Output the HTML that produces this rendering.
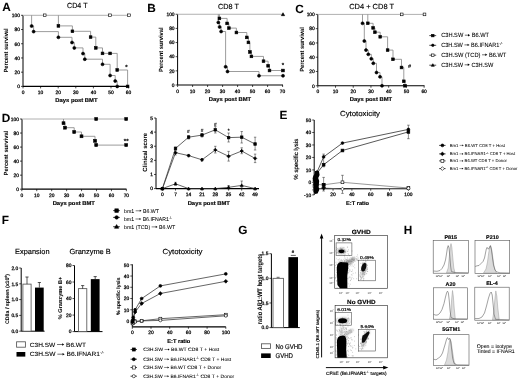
<!DOCTYPE html>
<html><head><meta charset="utf-8"><style>
html,body{margin:0;padding:0;background:#fff;}
svg{display:block;font-family:"Liberation Sans", sans-serif;text-rendering:geometricPrecision;}
</style></head><body>
<svg style="will-change:transform" width="520" height="381" viewBox="0 0 520 381">
<rect width="520" height="381" fill="#fff"/>
<text x="2.20" y="11.40" font-size="11.8" font-weight="bold" stroke="#000" stroke-width="0.05">A</text>
<text x="77.30" y="8.20" font-size="7.4" text-anchor="middle" textLength="20.40" lengthAdjust="spacingAndGlyphs" stroke="#000" stroke-width="0.15">CD4 T</text>
<line x1="23.00" y1="15.30" x2="23.00" y2="86.40" stroke="#000" stroke-width="1.0"/>
<line x1="21.00" y1="86.40" x2="23.00" y2="86.40" stroke="#000" stroke-width="0.7"/>
<text x="20.00" y="88.16" font-size="4.9" text-anchor="end" stroke="#000" stroke-width="0.25">0</text>
<line x1="21.00" y1="72.18" x2="23.00" y2="72.18" stroke="#000" stroke-width="0.7"/>
<text x="20.00" y="73.94" font-size="4.9" text-anchor="end" stroke="#000" stroke-width="0.25">20</text>
<line x1="21.00" y1="57.96" x2="23.00" y2="57.96" stroke="#000" stroke-width="0.7"/>
<text x="20.00" y="59.72" font-size="4.9" text-anchor="end" stroke="#000" stroke-width="0.25">40</text>
<line x1="21.00" y1="43.74" x2="23.00" y2="43.74" stroke="#000" stroke-width="0.7"/>
<text x="20.00" y="45.50" font-size="4.9" text-anchor="end" stroke="#000" stroke-width="0.25">60</text>
<line x1="21.00" y1="29.52" x2="23.00" y2="29.52" stroke="#000" stroke-width="0.7"/>
<text x="20.00" y="31.28" font-size="4.9" text-anchor="end" stroke="#000" stroke-width="0.25">80</text>
<line x1="21.00" y1="15.30" x2="23.00" y2="15.30" stroke="#000" stroke-width="0.7"/>
<text x="20.00" y="17.06" font-size="4.9" text-anchor="end" stroke="#000" stroke-width="0.25">100</text>
<line x1="23.00" y1="86.40" x2="128.80" y2="86.40" stroke="#000" stroke-width="1.2"/>
<line x1="23.00" y1="86.40" x2="23.00" y2="88.40" stroke="#000" stroke-width="0.7"/>
<text x="23.00" y="94.20" font-size="4.9" text-anchor="middle" stroke="#000" stroke-width="0.25">0</text>
<line x1="40.60" y1="86.40" x2="40.60" y2="88.40" stroke="#000" stroke-width="0.7"/>
<text x="40.60" y="94.20" font-size="4.9" text-anchor="middle" stroke="#000" stroke-width="0.25">10</text>
<line x1="58.20" y1="86.40" x2="58.20" y2="88.40" stroke="#000" stroke-width="0.7"/>
<text x="58.20" y="94.20" font-size="4.9" text-anchor="middle" stroke="#000" stroke-width="0.25">20</text>
<line x1="75.80" y1="86.40" x2="75.80" y2="88.40" stroke="#000" stroke-width="0.7"/>
<text x="75.80" y="94.20" font-size="4.9" text-anchor="middle" stroke="#000" stroke-width="0.25">30</text>
<line x1="93.40" y1="86.40" x2="93.40" y2="88.40" stroke="#000" stroke-width="0.7"/>
<text x="93.40" y="94.20" font-size="4.9" text-anchor="middle" stroke="#000" stroke-width="0.25">40</text>
<line x1="111.00" y1="86.40" x2="111.00" y2="88.40" stroke="#000" stroke-width="0.7"/>
<text x="111.00" y="94.20" font-size="4.9" text-anchor="middle" stroke="#000" stroke-width="0.25">50</text>
<line x1="128.60" y1="86.40" x2="128.60" y2="88.40" stroke="#000" stroke-width="0.7"/>
<text x="128.60" y="94.20" font-size="4.9" text-anchor="middle" stroke="#000" stroke-width="0.25">60</text>
<text x="76.40" y="101.80" font-size="5.6" text-anchor="middle" font-weight="bold" textLength="42.30" lengthAdjust="spacingAndGlyphs" stroke="#000" stroke-width="0.15">Days post BMT</text>
<text x="8.40" y="50.50" font-size="6.0" text-anchor="middle" font-weight="bold" textLength="44.20" lengthAdjust="spacingAndGlyphs" stroke="#000" stroke-width="0.02" transform="rotate(-90 8.40 50.50)">Percent survival</text>
<line x1="23.00" y1="15.30" x2="128.80" y2="15.30" stroke="#b0b0b0" stroke-width="1.0"/>
<rect x="43.35" y="13.95" width="2.70" height="2.70" fill="#fff" stroke="#000" stroke-width="0.6"/>
<rect x="108.65" y="13.95" width="2.70" height="2.70" fill="#fff" stroke="#000" stroke-width="0.6"/>
<rect x="127.65" y="13.95" width="2.70" height="2.70" fill="#fff" stroke="#000" stroke-width="0.6"/>
<path d="M58.40 15.30H58.40V25.90H72.40V31.30H90.60V37.10H95.80V47.90H102.50V53.40H117.20V70.00H127.60V86.40" stroke="#8a8a8a" stroke-width="0.85" fill="none"/>
<rect x="57.05" y="24.55" width="2.70" height="2.70" fill="#000" stroke="#000" stroke-width="0.6"/>
<rect x="71.05" y="29.95" width="2.70" height="2.70" fill="#000" stroke="#000" stroke-width="0.6"/>
<rect x="89.25" y="35.75" width="2.70" height="2.70" fill="#000" stroke="#000" stroke-width="0.6"/>
<rect x="94.45" y="46.55" width="2.70" height="2.70" fill="#000" stroke="#000" stroke-width="0.6"/>
<rect x="101.15" y="52.05" width="2.70" height="2.70" fill="#000" stroke="#000" stroke-width="0.6"/>
<rect x="115.85" y="68.65" width="2.70" height="2.70" fill="#000" stroke="#000" stroke-width="0.6"/>
<rect x="126.25" y="85.05" width="2.70" height="2.70" fill="#000" stroke="#000" stroke-width="0.6"/>
<rect x="108.75" y="52.05" width="2.70" height="2.70" fill="#000" stroke="#000" stroke-width="0.6"/>
<path d="M31.60 15.30H31.60V26.00H33.60V31.60H58.40V37.30H72.00V42.50H74.30V47.90H83.00V53.60H84.80V59.20H102.50V64.30H110.10V75.50H115.20V81.00H117.20V86.40" stroke="#8a8a8a" stroke-width="0.85" fill="none"/>
<circle cx="31.60" cy="26.00" r="1.50" fill="#000" stroke="#000" stroke-width="0.6"/>
<circle cx="33.60" cy="31.60" r="1.50" fill="#000" stroke="#000" stroke-width="0.6"/>
<circle cx="58.40" cy="37.30" r="1.50" fill="#000" stroke="#000" stroke-width="0.6"/>
<circle cx="72.00" cy="42.50" r="1.50" fill="#000" stroke="#000" stroke-width="0.6"/>
<circle cx="74.30" cy="47.90" r="1.50" fill="#000" stroke="#000" stroke-width="0.6"/>
<circle cx="83.00" cy="53.60" r="1.50" fill="#000" stroke="#000" stroke-width="0.6"/>
<circle cx="84.80" cy="59.20" r="1.50" fill="#000" stroke="#000" stroke-width="0.6"/>
<circle cx="102.50" cy="64.30" r="1.50" fill="#000" stroke="#000" stroke-width="0.6"/>
<circle cx="110.10" cy="75.50" r="1.50" fill="#000" stroke="#000" stroke-width="0.6"/>
<circle cx="115.20" cy="81.00" r="1.50" fill="#000" stroke="#000" stroke-width="0.6"/>
<circle cx="117.20" cy="86.40" r="1.50" fill="#000" stroke="#000" stroke-width="0.6"/>
<text x="126.30" y="68.90" font-size="6.0" text-anchor="middle" font-weight="bold" stroke="#000" stroke-width="0.15">*</text>
<text x="147.20" y="12.30" font-size="11.8" font-weight="bold" stroke="#000" stroke-width="0.05">B</text>
<text x="228.40" y="9.10" font-size="7.4" text-anchor="middle" textLength="20.90" lengthAdjust="spacingAndGlyphs" stroke="#000" stroke-width="0.15">CD8 T</text>
<line x1="177.60" y1="14.25" x2="177.60" y2="85.00" stroke="#000" stroke-width="1.0"/>
<line x1="175.60" y1="85.00" x2="177.60" y2="85.00" stroke="#000" stroke-width="0.7"/>
<text x="174.60" y="86.76" font-size="4.9" text-anchor="end" stroke="#000" stroke-width="0.25">0</text>
<line x1="175.60" y1="70.85" x2="177.60" y2="70.85" stroke="#000" stroke-width="0.7"/>
<text x="174.60" y="72.61" font-size="4.9" text-anchor="end" stroke="#000" stroke-width="0.25">20</text>
<line x1="175.60" y1="56.70" x2="177.60" y2="56.70" stroke="#000" stroke-width="0.7"/>
<text x="174.60" y="58.46" font-size="4.9" text-anchor="end" stroke="#000" stroke-width="0.25">40</text>
<line x1="175.60" y1="42.55" x2="177.60" y2="42.55" stroke="#000" stroke-width="0.7"/>
<text x="174.60" y="44.31" font-size="4.9" text-anchor="end" stroke="#000" stroke-width="0.25">60</text>
<line x1="175.60" y1="28.40" x2="177.60" y2="28.40" stroke="#000" stroke-width="0.7"/>
<text x="174.60" y="30.16" font-size="4.9" text-anchor="end" stroke="#000" stroke-width="0.25">80</text>
<line x1="175.60" y1="14.25" x2="177.60" y2="14.25" stroke="#000" stroke-width="0.7"/>
<text x="174.60" y="16.01" font-size="4.9" text-anchor="end" stroke="#000" stroke-width="0.25">100</text>
<line x1="177.60" y1="85.00" x2="283.00" y2="85.00" stroke="#000" stroke-width="1.2"/>
<line x1="177.60" y1="85.00" x2="177.60" y2="87.00" stroke="#000" stroke-width="0.7"/>
<text x="177.60" y="93.00" font-size="4.9" text-anchor="middle" stroke="#000" stroke-width="0.25">0</text>
<line x1="192.60" y1="85.00" x2="192.60" y2="87.00" stroke="#000" stroke-width="0.7"/>
<text x="192.60" y="93.00" font-size="4.9" text-anchor="middle" stroke="#000" stroke-width="0.25">10</text>
<line x1="207.60" y1="85.00" x2="207.60" y2="87.00" stroke="#000" stroke-width="0.7"/>
<text x="207.60" y="93.00" font-size="4.9" text-anchor="middle" stroke="#000" stroke-width="0.25">20</text>
<line x1="222.60" y1="85.00" x2="222.60" y2="87.00" stroke="#000" stroke-width="0.7"/>
<text x="222.60" y="93.00" font-size="4.9" text-anchor="middle" stroke="#000" stroke-width="0.25">30</text>
<line x1="237.60" y1="85.00" x2="237.60" y2="87.00" stroke="#000" stroke-width="0.7"/>
<text x="237.60" y="93.00" font-size="4.9" text-anchor="middle" stroke="#000" stroke-width="0.25">40</text>
<line x1="252.60" y1="85.00" x2="252.60" y2="87.00" stroke="#000" stroke-width="0.7"/>
<text x="252.60" y="93.00" font-size="4.9" text-anchor="middle" stroke="#000" stroke-width="0.25">50</text>
<line x1="267.60" y1="85.00" x2="267.60" y2="87.00" stroke="#000" stroke-width="0.7"/>
<text x="267.60" y="93.00" font-size="4.9" text-anchor="middle" stroke="#000" stroke-width="0.25">60</text>
<line x1="282.60" y1="85.00" x2="282.60" y2="87.00" stroke="#000" stroke-width="0.7"/>
<text x="282.60" y="93.00" font-size="4.9" text-anchor="middle" stroke="#000" stroke-width="0.25">70</text>
<text x="230.00" y="101.20" font-size="5.6" text-anchor="middle" font-weight="bold" textLength="42.30" lengthAdjust="spacingAndGlyphs" stroke="#000" stroke-width="0.15">Days post BMT</text>
<text x="162.60" y="49.70" font-size="6.0" text-anchor="middle" font-weight="bold" textLength="44.60" lengthAdjust="spacingAndGlyphs" stroke="#000" stroke-width="0.02" transform="rotate(-90 162.60 49.70)">Percent survival</text>
<line x1="177.60" y1="14.25" x2="283.00" y2="14.25" stroke="#b0b0b0" stroke-width="1.0"/>
<path d="M283.00 12.72L284.68 15.66L281.32 15.66Z" fill="#000" stroke="#000" stroke-width="0.6"/>
<path d="M218.30 14.25H218.30V22.40H219.60V26.90H221.10V31.50H225.60V66.80H227.50V71.50H259.00V75.75H283.00" stroke="#8a8a8a" stroke-width="0.85" fill="none"/>
<circle cx="218.30" cy="22.40" r="1.50" fill="#000" stroke="#000" stroke-width="0.6"/>
<circle cx="219.60" cy="26.90" r="1.50" fill="#000" stroke="#000" stroke-width="0.6"/>
<circle cx="221.10" cy="31.50" r="1.50" fill="#000" stroke="#000" stroke-width="0.6"/>
<circle cx="225.60" cy="66.80" r="1.50" fill="#000" stroke="#000" stroke-width="0.6"/>
<circle cx="227.50" cy="71.50" r="1.50" fill="#000" stroke="#000" stroke-width="0.6"/>
<circle cx="259.00" cy="75.75" r="1.50" fill="#000" stroke="#000" stroke-width="0.6"/>
<circle cx="283.00" cy="75.75" r="1.50" fill="#000" stroke="#000" stroke-width="0.6"/>
<path d="M219.40 14.25H219.40V18.40H227.10V23.40H228.90V28.10H236.40V32.50H246.80V37.40H248.40V42.40H249.90V52.00H251.40V56.40H263.50V61.20H268.10V65.80H269.50V70.50H283.00" stroke="#8a8a8a" stroke-width="0.85" fill="none"/>
<rect x="218.05" y="17.05" width="2.70" height="2.70" fill="#000" stroke="#000" stroke-width="0.6"/>
<rect x="225.75" y="22.05" width="2.70" height="2.70" fill="#000" stroke="#000" stroke-width="0.6"/>
<rect x="227.55" y="26.75" width="2.70" height="2.70" fill="#000" stroke="#000" stroke-width="0.6"/>
<rect x="235.05" y="31.15" width="2.70" height="2.70" fill="#000" stroke="#000" stroke-width="0.6"/>
<rect x="245.45" y="36.05" width="2.70" height="2.70" fill="#000" stroke="#000" stroke-width="0.6"/>
<rect x="247.05" y="41.05" width="2.70" height="2.70" fill="#000" stroke="#000" stroke-width="0.6"/>
<rect x="248.55" y="50.65" width="2.70" height="2.70" fill="#000" stroke="#000" stroke-width="0.6"/>
<rect x="250.05" y="55.05" width="2.70" height="2.70" fill="#000" stroke="#000" stroke-width="0.6"/>
<rect x="262.15" y="59.85" width="2.70" height="2.70" fill="#000" stroke="#000" stroke-width="0.6"/>
<rect x="266.75" y="64.45" width="2.70" height="2.70" fill="#000" stroke="#000" stroke-width="0.6"/>
<rect x="268.15" y="69.15" width="2.70" height="2.70" fill="#000" stroke="#000" stroke-width="0.6"/>
<rect x="281.65" y="69.15" width="2.70" height="2.70" fill="#000" stroke="#000" stroke-width="0.6"/>
<text x="283.00" y="67.30" font-size="6.0" text-anchor="middle" font-weight="bold" stroke="#000" stroke-width="0.15">*</text>
<text x="295.20" y="12.80" font-size="11.8" font-weight="bold" stroke="#000" stroke-width="0.05">C</text>
<text x="371.60" y="8.50" font-size="7.4" text-anchor="middle" textLength="44.90" lengthAdjust="spacingAndGlyphs" stroke="#000" stroke-width="0.15">CD4 + CD8 T</text>
<line x1="317.80" y1="14.40" x2="317.80" y2="85.75" stroke="#000" stroke-width="1.0"/>
<line x1="315.80" y1="85.75" x2="317.80" y2="85.75" stroke="#000" stroke-width="0.7"/>
<text x="314.80" y="87.51" font-size="4.9" text-anchor="end" stroke="#000" stroke-width="0.25">0</text>
<line x1="315.80" y1="71.48" x2="317.80" y2="71.48" stroke="#000" stroke-width="0.7"/>
<text x="314.80" y="73.24" font-size="4.9" text-anchor="end" stroke="#000" stroke-width="0.25">20</text>
<line x1="315.80" y1="57.21" x2="317.80" y2="57.21" stroke="#000" stroke-width="0.7"/>
<text x="314.80" y="58.97" font-size="4.9" text-anchor="end" stroke="#000" stroke-width="0.25">40</text>
<line x1="315.80" y1="42.94" x2="317.80" y2="42.94" stroke="#000" stroke-width="0.7"/>
<text x="314.80" y="44.70" font-size="4.9" text-anchor="end" stroke="#000" stroke-width="0.25">60</text>
<line x1="315.80" y1="28.67" x2="317.80" y2="28.67" stroke="#000" stroke-width="0.7"/>
<text x="314.80" y="30.43" font-size="4.9" text-anchor="end" stroke="#000" stroke-width="0.25">80</text>
<line x1="315.80" y1="14.40" x2="317.80" y2="14.40" stroke="#000" stroke-width="0.7"/>
<text x="314.80" y="16.16" font-size="4.9" text-anchor="end" stroke="#000" stroke-width="0.25">100</text>
<line x1="317.80" y1="85.75" x2="424.50" y2="85.75" stroke="#000" stroke-width="1.2"/>
<line x1="317.80" y1="85.75" x2="317.80" y2="87.75" stroke="#000" stroke-width="0.7"/>
<text x="317.80" y="93.40" font-size="4.9" text-anchor="middle" stroke="#000" stroke-width="0.25">0</text>
<line x1="335.52" y1="85.75" x2="335.52" y2="87.75" stroke="#000" stroke-width="0.7"/>
<text x="335.52" y="93.40" font-size="4.9" text-anchor="middle" stroke="#000" stroke-width="0.25">10</text>
<line x1="353.24" y1="85.75" x2="353.24" y2="87.75" stroke="#000" stroke-width="0.7"/>
<text x="353.24" y="93.40" font-size="4.9" text-anchor="middle" stroke="#000" stroke-width="0.25">20</text>
<line x1="370.96" y1="85.75" x2="370.96" y2="87.75" stroke="#000" stroke-width="0.7"/>
<text x="370.96" y="93.40" font-size="4.9" text-anchor="middle" stroke="#000" stroke-width="0.25">30</text>
<line x1="388.68" y1="85.75" x2="388.68" y2="87.75" stroke="#000" stroke-width="0.7"/>
<text x="388.68" y="93.40" font-size="4.9" text-anchor="middle" stroke="#000" stroke-width="0.25">40</text>
<line x1="406.40" y1="85.75" x2="406.40" y2="87.75" stroke="#000" stroke-width="0.7"/>
<text x="406.40" y="93.40" font-size="4.9" text-anchor="middle" stroke="#000" stroke-width="0.25">50</text>
<line x1="424.12" y1="85.75" x2="424.12" y2="87.75" stroke="#000" stroke-width="0.7"/>
<text x="424.12" y="93.40" font-size="4.9" text-anchor="middle" stroke="#000" stroke-width="0.25">60</text>
<text x="371.00" y="101.20" font-size="5.6" text-anchor="middle" font-weight="bold" textLength="42.30" lengthAdjust="spacingAndGlyphs" stroke="#000" stroke-width="0.15">Days post BMT</text>
<text x="304.00" y="49.50" font-size="6.0" text-anchor="middle" font-weight="bold" textLength="44.60" lengthAdjust="spacingAndGlyphs" stroke="#000" stroke-width="0.02" transform="rotate(-90 304.00 49.50)">Percent survival</text>
<line x1="317.80" y1="14.40" x2="424.50" y2="14.40" stroke="#b0b0b0" stroke-width="1.0"/>
<rect x="400.35" y="13.05" width="2.70" height="2.70" fill="#fff" stroke="#000" stroke-width="0.6"/>
<rect x="423.15" y="13.05" width="2.70" height="2.70" fill="#fff" stroke="#000" stroke-width="0.6"/>
<path d="M362.50 14.40H362.50V23.30H364.30V41.00H366.00V50.10H368.30V54.30H371.30V58.80H373.30V63.30H376.50V72.50H380.00V76.80H382.00V85.75" stroke="#8a8a8a" stroke-width="0.85" fill="none"/>
<circle cx="362.50" cy="23.30" r="1.50" fill="#000" stroke="#000" stroke-width="0.6"/>
<circle cx="364.30" cy="41.00" r="1.50" fill="#000" stroke="#000" stroke-width="0.6"/>
<circle cx="366.00" cy="50.10" r="1.50" fill="#000" stroke="#000" stroke-width="0.6"/>
<circle cx="368.30" cy="54.30" r="1.50" fill="#000" stroke="#000" stroke-width="0.6"/>
<circle cx="371.30" cy="58.80" r="1.50" fill="#000" stroke="#000" stroke-width="0.6"/>
<circle cx="373.30" cy="63.30" r="1.50" fill="#000" stroke="#000" stroke-width="0.6"/>
<circle cx="376.50" cy="72.50" r="1.50" fill="#000" stroke="#000" stroke-width="0.6"/>
<circle cx="380.00" cy="76.80" r="1.50" fill="#000" stroke="#000" stroke-width="0.6"/>
<circle cx="382.00" cy="85.75" r="1.50" fill="#000" stroke="#000" stroke-width="0.6"/>
<path d="M367.80 14.40H367.80V23.30H373.10V27.90H374.90V32.20H380.20V36.80H387.60V50.10H393.00V59.30H401.50V67.50H403.80V81.30H405.00V85.75" stroke="#8a8a8a" stroke-width="0.85" fill="none"/>
<rect x="366.45" y="21.95" width="2.70" height="2.70" fill="#000" stroke="#000" stroke-width="0.6"/>
<rect x="371.75" y="26.55" width="2.70" height="2.70" fill="#000" stroke="#000" stroke-width="0.6"/>
<rect x="373.55" y="30.85" width="2.70" height="2.70" fill="#000" stroke="#000" stroke-width="0.6"/>
<rect x="378.85" y="35.45" width="2.70" height="2.70" fill="#000" stroke="#000" stroke-width="0.6"/>
<rect x="386.25" y="48.75" width="2.70" height="2.70" fill="#000" stroke="#000" stroke-width="0.6"/>
<rect x="391.65" y="57.95" width="2.70" height="2.70" fill="#000" stroke="#000" stroke-width="0.6"/>
<rect x="400.15" y="66.15" width="2.70" height="2.70" fill="#000" stroke="#000" stroke-width="0.6"/>
<rect x="402.45" y="79.95" width="2.70" height="2.70" fill="#000" stroke="#000" stroke-width="0.6"/>
<rect x="403.65" y="84.40" width="2.70" height="2.70" fill="#000" stroke="#000" stroke-width="0.6"/>
<text x="409.60" y="68.20" font-size="5.6" text-anchor="middle" font-weight="bold" stroke="#000" stroke-width="0.05">#</text>
<line x1="429.30" y1="35.60" x2="436.20" y2="35.60" stroke="#000" stroke-width="0.7"/>
<rect x="431.55" y="34.35" width="2.50" height="2.50" fill="#000" stroke="#000" stroke-width="0.6"/>
<text x="441.20" y="37.40" font-size="6.1" textLength="23.65" lengthAdjust="spacingAndGlyphs" stroke="#000" stroke-width="0.08">C3H.SW&#160;</text>
<line x1="464.85" y1="35.20" x2="468.20" y2="35.20" stroke="#000" stroke-width="0.5685"/>
<path d="M470.08 35.20L468.00 33.98L468.00 36.42Z" fill="#000"/>
<text x="470.08" y="37.40" font-size="6.1" textLength="18.92" lengthAdjust="spacingAndGlyphs" stroke="#000" stroke-width="0.08">&#160;B6.WT</text>
<line x1="429.30" y1="45.30" x2="436.20" y2="45.30" stroke="#000" stroke-width="0.7"/>
<circle cx="432.80" cy="45.30" r="1.25" fill="#000" stroke="#000" stroke-width="0.6"/>
<text x="441.20" y="47.10" font-size="6.1" textLength="23.24" lengthAdjust="spacingAndGlyphs" stroke="#000" stroke-width="0.08">C3H.SW&#160;</text>
<line x1="464.44" y1="44.90" x2="467.69" y2="44.90" stroke="#000" stroke-width="0.5685"/>
<path d="M469.57 44.90L467.49 43.68L467.49 46.12Z" fill="#000"/>
<text x="469.57" y="47.10" font-size="6.1" textLength="29.75" lengthAdjust="spacingAndGlyphs" stroke="#000" stroke-width="0.08">&#160;B6.IFNAR1</text>
<text x="499.32" y="44.66" font-size="4.148" textLength="3.58" lengthAdjust="spacingAndGlyphs" stroke="#000" stroke-width="0.05">-/-</text>
<line x1="429.30" y1="55.20" x2="436.20" y2="55.20" stroke="#000" stroke-width="0.7"/>
<rect x="431.55" y="53.95" width="2.50" height="2.50" fill="#fff" stroke="#000" stroke-width="0.6"/>
<text x="441.20" y="57.00" font-size="6.1" textLength="40.85" lengthAdjust="spacingAndGlyphs" stroke="#000" stroke-width="0.08">C3H.SW&#160;(TCD)&#160;</text>
<line x1="482.05" y1="54.80" x2="485.42" y2="54.80" stroke="#000" stroke-width="0.5685"/>
<path d="M487.30 54.80L485.22 53.58L485.22 56.02Z" fill="#000"/>
<text x="487.30" y="57.00" font-size="6.1" textLength="19.00" lengthAdjust="spacingAndGlyphs" stroke="#000" stroke-width="0.08">&#160;B6.WT</text>
<line x1="429.30" y1="65.20" x2="436.20" y2="65.20" stroke="#000" stroke-width="0.7"/>
<path d="M432.80 63.70L434.30 66.33L431.30 66.33Z" fill="#000" stroke="#000" stroke-width="0.6"/>
<text x="441.20" y="67.00" font-size="6.1" textLength="23.46" lengthAdjust="spacingAndGlyphs" stroke="#000" stroke-width="0.08">C3H.SW&#160;</text>
<line x1="464.66" y1="64.80" x2="467.97" y2="64.80" stroke="#000" stroke-width="0.5685"/>
<path d="M469.84 64.80L467.77 63.58L467.77 66.02Z" fill="#000"/>
<text x="469.84" y="67.00" font-size="6.1" textLength="23.46" lengthAdjust="spacingAndGlyphs" stroke="#000" stroke-width="0.08">&#160;C3H.SW</text>
<text x="1.65" y="122.00" font-size="11.8" font-weight="bold" stroke="#000" stroke-width="0.05">D</text>
<line x1="22.00" y1="119.00" x2="22.00" y2="189.20" stroke="#000" stroke-width="1.0"/>
<line x1="20.00" y1="189.20" x2="22.00" y2="189.20" stroke="#000" stroke-width="0.7"/>
<text x="19.00" y="190.96" font-size="4.9" text-anchor="end" stroke="#000" stroke-width="0.25">0</text>
<line x1="20.00" y1="175.16" x2="22.00" y2="175.16" stroke="#000" stroke-width="0.7"/>
<text x="19.00" y="176.92" font-size="4.9" text-anchor="end" stroke="#000" stroke-width="0.25">20</text>
<line x1="20.00" y1="161.12" x2="22.00" y2="161.12" stroke="#000" stroke-width="0.7"/>
<text x="19.00" y="162.88" font-size="4.9" text-anchor="end" stroke="#000" stroke-width="0.25">40</text>
<line x1="20.00" y1="147.08" x2="22.00" y2="147.08" stroke="#000" stroke-width="0.7"/>
<text x="19.00" y="148.84" font-size="4.9" text-anchor="end" stroke="#000" stroke-width="0.25">60</text>
<line x1="20.00" y1="133.04" x2="22.00" y2="133.04" stroke="#000" stroke-width="0.7"/>
<text x="19.00" y="134.80" font-size="4.9" text-anchor="end" stroke="#000" stroke-width="0.25">80</text>
<line x1="20.00" y1="119.00" x2="22.00" y2="119.00" stroke="#000" stroke-width="0.7"/>
<text x="19.00" y="120.76" font-size="4.9" text-anchor="end" stroke="#000" stroke-width="0.25">100</text>
<line x1="22.00" y1="189.20" x2="126.50" y2="189.20" stroke="#000" stroke-width="1.2"/>
<line x1="21.80" y1="189.20" x2="21.80" y2="191.20" stroke="#000" stroke-width="0.7"/>
<text x="21.80" y="196.80" font-size="4.9" text-anchor="middle" stroke="#000" stroke-width="0.25">0</text>
<line x1="36.74" y1="189.20" x2="36.74" y2="191.20" stroke="#000" stroke-width="0.7"/>
<text x="36.74" y="196.80" font-size="4.9" text-anchor="middle" stroke="#000" stroke-width="0.25">10</text>
<line x1="51.68" y1="189.20" x2="51.68" y2="191.20" stroke="#000" stroke-width="0.7"/>
<text x="51.68" y="196.80" font-size="4.9" text-anchor="middle" stroke="#000" stroke-width="0.25">20</text>
<line x1="66.62" y1="189.20" x2="66.62" y2="191.20" stroke="#000" stroke-width="0.7"/>
<text x="66.62" y="196.80" font-size="4.9" text-anchor="middle" stroke="#000" stroke-width="0.25">30</text>
<line x1="81.56" y1="189.20" x2="81.56" y2="191.20" stroke="#000" stroke-width="0.7"/>
<text x="81.56" y="196.80" font-size="4.9" text-anchor="middle" stroke="#000" stroke-width="0.25">40</text>
<line x1="96.50" y1="189.20" x2="96.50" y2="191.20" stroke="#000" stroke-width="0.7"/>
<text x="96.50" y="196.80" font-size="4.9" text-anchor="middle" stroke="#000" stroke-width="0.25">50</text>
<line x1="111.44" y1="189.20" x2="111.44" y2="191.20" stroke="#000" stroke-width="0.7"/>
<text x="111.44" y="196.80" font-size="4.9" text-anchor="middle" stroke="#000" stroke-width="0.25">60</text>
<line x1="126.38" y1="189.20" x2="126.38" y2="191.20" stroke="#000" stroke-width="0.7"/>
<text x="126.38" y="196.80" font-size="4.9" text-anchor="middle" stroke="#000" stroke-width="0.25">70</text>
<text x="73.80" y="205.00" font-size="5.6" text-anchor="middle" font-weight="bold" textLength="42.30" lengthAdjust="spacingAndGlyphs" stroke="#000" stroke-width="0.15">Days post BMT</text>
<text x="7.70" y="153.10" font-size="6.0" text-anchor="middle" font-weight="bold" textLength="44.60" lengthAdjust="spacingAndGlyphs" stroke="#000" stroke-width="0.02" transform="rotate(-90 7.70 153.10)">Percent survival</text>
<line x1="22.00" y1="119.00" x2="126.30" y2="119.00" stroke="#b0b0b0" stroke-width="1.0"/>
<rect x="94.75" y="117.55" width="2.90" height="2.90" fill="#000" stroke="#000" stroke-width="0.6"/>
<rect x="124.75" y="117.55" width="2.90" height="2.90" fill="#000" stroke="#000" stroke-width="0.6"/>
<path d="M63.50 119.00H63.50V123.20H65.00V127.70H74.20V132.00H81.50V136.30H95.00V140.80H96.20V145.10H126.20" stroke="#8a8a8a" stroke-width="0.85" fill="none"/>
<rect x="62.05" y="121.75" width="2.90" height="2.90" fill="#000" stroke="#000" stroke-width="0.6"/>
<rect x="63.55" y="126.25" width="2.90" height="2.90" fill="#000" stroke="#000" stroke-width="0.6"/>
<rect x="72.75" y="130.55" width="2.90" height="2.90" fill="#000" stroke="#000" stroke-width="0.6"/>
<rect x="80.05" y="134.85" width="2.90" height="2.90" fill="#000" stroke="#000" stroke-width="0.6"/>
<rect x="93.55" y="139.35" width="2.90" height="2.90" fill="#000" stroke="#000" stroke-width="0.6"/>
<rect x="94.75" y="143.65" width="2.90" height="2.90" fill="#000" stroke="#000" stroke-width="0.6"/>
<rect x="124.75" y="143.65" width="2.90" height="2.90" fill="#000" stroke="#000" stroke-width="0.6"/>
<text x="126.20" y="143.00" font-size="6.0" text-anchor="middle" font-weight="bold" stroke="#000" stroke-width="0.15">**</text>
<line x1="113.20" y1="210.60" x2="119.80" y2="210.60" stroke="#000" stroke-width="0.8"/>
<rect x="114.85" y="208.85" width="3.50" height="3.50" fill="#000" stroke="#000" stroke-width="0.6"/>
<text x="124.00" y="212.70" font-size="5.3" textLength="11.65" lengthAdjust="spacingAndGlyphs" stroke="#000" stroke-width="0.05">bm1&#160;</text>
<line x1="135.65" y1="210.79" x2="139.92" y2="210.79" stroke="#000" stroke-width="0.5005000000000001"/>
<path d="M141.53 210.79L139.72 209.73L139.72 211.85Z" fill="#000"/>
<text x="141.53" y="212.70" font-size="5.3" textLength="17.47" lengthAdjust="spacingAndGlyphs" stroke="#000" stroke-width="0.05">&#160;B6.WT</text>
<line x1="113.20" y1="217.40" x2="119.80" y2="217.40" stroke="#000" stroke-width="0.8"/>
<circle cx="116.60" cy="217.40" r="1.75" fill="#000" stroke="#000" stroke-width="0.6"/>
<text x="124.00" y="220.90" font-size="5.3" textLength="11.47" lengthAdjust="spacingAndGlyphs" stroke="#000" stroke-width="0.05">bm1&#160;</text>
<line x1="135.47" y1="218.99" x2="139.65" y2="218.99" stroke="#000" stroke-width="0.5005000000000001"/>
<path d="M141.25 218.99L139.45 217.93L139.45 220.05Z" fill="#000"/>
<text x="141.25" y="220.90" font-size="5.3" textLength="27.53" lengthAdjust="spacingAndGlyphs" stroke="#000" stroke-width="0.05">&#160;B6.IFNAR1</text>
<text x="168.79" y="218.78" font-size="3.604" textLength="3.31" lengthAdjust="spacingAndGlyphs" stroke="#000" stroke-width="0.05">-/-</text>
<line x1="113.20" y1="226.70" x2="119.80" y2="226.70" stroke="#000" stroke-width="0.8"/>
<path d="M116.60 224.60L118.70 228.27L114.50 228.27Z" fill="#000" stroke="#000" stroke-width="0.6"/>
<text x="124.00" y="228.80" font-size="5.3" textLength="27.63" lengthAdjust="spacingAndGlyphs" stroke="#000" stroke-width="0.05">bm1&#160;(TCD)&#160;</text>
<line x1="151.63" y1="226.89" x2="155.96" y2="226.89" stroke="#000" stroke-width="0.5005000000000001"/>
<path d="M157.56 226.89L155.76 225.83L155.76 227.95Z" fill="#000"/>
<text x="157.56" y="228.80" font-size="5.3" textLength="17.64" lengthAdjust="spacingAndGlyphs" stroke="#000" stroke-width="0.05">&#160;B6.WT</text>
<line x1="156.00" y1="118.00" x2="156.00" y2="188.60" stroke="#000" stroke-width="1.0"/>
<line x1="154.00" y1="188.60" x2="156.00" y2="188.60" stroke="#000" stroke-width="0.7"/>
<text x="153.00" y="190.36" font-size="4.9" text-anchor="end" stroke="#000" stroke-width="0.25">0</text>
<line x1="154.00" y1="174.48" x2="156.00" y2="174.48" stroke="#000" stroke-width="0.7"/>
<text x="153.00" y="176.24" font-size="4.9" text-anchor="end" stroke="#000" stroke-width="0.25">1</text>
<line x1="154.00" y1="160.36" x2="156.00" y2="160.36" stroke="#000" stroke-width="0.7"/>
<text x="153.00" y="162.12" font-size="4.9" text-anchor="end" stroke="#000" stroke-width="0.25">2</text>
<line x1="154.00" y1="146.24" x2="156.00" y2="146.24" stroke="#000" stroke-width="0.7"/>
<text x="153.00" y="148.00" font-size="4.9" text-anchor="end" stroke="#000" stroke-width="0.25">3</text>
<line x1="154.00" y1="132.12" x2="156.00" y2="132.12" stroke="#000" stroke-width="0.7"/>
<text x="153.00" y="133.88" font-size="4.9" text-anchor="end" stroke="#000" stroke-width="0.25">4</text>
<line x1="154.00" y1="118.00" x2="156.00" y2="118.00" stroke="#000" stroke-width="0.7"/>
<text x="153.00" y="119.76" font-size="4.9" text-anchor="end" stroke="#000" stroke-width="0.25">5</text>
<line x1="156.00" y1="188.60" x2="259.00" y2="188.60" stroke="#000" stroke-width="1.2"/>
<line x1="162.40" y1="188.60" x2="162.40" y2="190.60" stroke="#000" stroke-width="0.7"/>
<text x="162.40" y="196.20" font-size="4.9" text-anchor="middle" stroke="#000" stroke-width="0.25">0</text>
<line x1="175.50" y1="188.60" x2="175.50" y2="190.60" stroke="#000" stroke-width="0.7"/>
<text x="175.50" y="196.20" font-size="4.9" text-anchor="middle" stroke="#000" stroke-width="0.25">7</text>
<line x1="188.60" y1="188.60" x2="188.60" y2="190.60" stroke="#000" stroke-width="0.7"/>
<text x="188.60" y="196.20" font-size="4.9" text-anchor="middle" stroke="#000" stroke-width="0.25">14</text>
<line x1="202.00" y1="188.60" x2="202.00" y2="190.60" stroke="#000" stroke-width="0.7"/>
<text x="202.00" y="196.20" font-size="4.9" text-anchor="middle" stroke="#000" stroke-width="0.25">21</text>
<line x1="215.30" y1="188.60" x2="215.30" y2="190.60" stroke="#000" stroke-width="0.7"/>
<text x="215.30" y="196.20" font-size="4.9" text-anchor="middle" stroke="#000" stroke-width="0.25">28</text>
<line x1="228.60" y1="188.60" x2="228.60" y2="190.60" stroke="#000" stroke-width="0.7"/>
<text x="228.60" y="196.20" font-size="4.9" text-anchor="middle" stroke="#000" stroke-width="0.25">35</text>
<line x1="241.70" y1="188.60" x2="241.70" y2="190.60" stroke="#000" stroke-width="0.7"/>
<text x="241.70" y="196.20" font-size="4.9" text-anchor="middle" stroke="#000" stroke-width="0.25">42</text>
<line x1="255.10" y1="188.60" x2="255.10" y2="190.60" stroke="#000" stroke-width="0.7"/>
<text x="255.10" y="196.20" font-size="4.9" text-anchor="middle" stroke="#000" stroke-width="0.25">49</text>
<text x="208.80" y="204.60" font-size="5.6" text-anchor="middle" font-weight="bold" textLength="42.30" lengthAdjust="spacingAndGlyphs" stroke="#000" stroke-width="0.15">Days post BMT</text>
<text x="146.90" y="152.30" font-size="6.0" text-anchor="middle" font-weight="bold" textLength="38.80" lengthAdjust="spacingAndGlyphs" stroke="#000" stroke-width="0.03" transform="rotate(-90 146.90 152.30)">Clinical score</text>
<path d="M162.40 188.60 L175.50 148.40 L188.60 137.20 L202.00 135.10 L215.30 129.80 L228.60 137.60 L241.70 137.20 L255.10 144.00" stroke="#333" stroke-width="0.75" fill="none"/>
<line x1="175.50" y1="147.00" x2="175.50" y2="150.00" stroke="#333" stroke-width="0.55"/>
<line x1="174.30" y1="147.00" x2="176.70" y2="147.00" stroke="#333" stroke-width="0.55"/>
<line x1="174.30" y1="150.00" x2="176.70" y2="150.00" stroke="#333" stroke-width="0.55"/>
<line x1="188.60" y1="135.50" x2="188.60" y2="139.00" stroke="#333" stroke-width="0.55"/>
<line x1="187.40" y1="135.50" x2="189.80" y2="135.50" stroke="#333" stroke-width="0.55"/>
<line x1="187.40" y1="139.00" x2="189.80" y2="139.00" stroke="#333" stroke-width="0.55"/>
<line x1="202.00" y1="133.50" x2="202.00" y2="137.00" stroke="#333" stroke-width="0.55"/>
<line x1="200.80" y1="133.50" x2="203.20" y2="133.50" stroke="#333" stroke-width="0.55"/>
<line x1="200.80" y1="137.00" x2="203.20" y2="137.00" stroke="#333" stroke-width="0.55"/>
<line x1="215.30" y1="126.60" x2="215.30" y2="133.00" stroke="#333" stroke-width="0.55"/>
<line x1="214.10" y1="126.60" x2="216.50" y2="126.60" stroke="#333" stroke-width="0.55"/>
<line x1="214.10" y1="133.00" x2="216.50" y2="133.00" stroke="#333" stroke-width="0.55"/>
<line x1="228.60" y1="133.00" x2="228.60" y2="142.00" stroke="#333" stroke-width="0.55"/>
<line x1="227.40" y1="133.00" x2="229.80" y2="133.00" stroke="#333" stroke-width="0.55"/>
<line x1="227.40" y1="142.00" x2="229.80" y2="142.00" stroke="#333" stroke-width="0.55"/>
<line x1="241.70" y1="131.50" x2="241.70" y2="143.00" stroke="#333" stroke-width="0.55"/>
<line x1="240.50" y1="131.50" x2="242.90" y2="131.50" stroke="#333" stroke-width="0.55"/>
<line x1="240.50" y1="143.00" x2="242.90" y2="143.00" stroke="#333" stroke-width="0.55"/>
<line x1="255.10" y1="137.20" x2="255.10" y2="150.00" stroke="#333" stroke-width="0.55"/>
<line x1="253.90" y1="137.20" x2="256.30" y2="137.20" stroke="#333" stroke-width="0.55"/>
<line x1="253.90" y1="150.00" x2="256.30" y2="150.00" stroke="#333" stroke-width="0.55"/>
<rect x="161.10" y="187.30" width="2.60" height="2.60" fill="#000" stroke="#000" stroke-width="0.6"/>
<rect x="174.20" y="147.10" width="2.60" height="2.60" fill="#000" stroke="#000" stroke-width="0.6"/>
<rect x="187.30" y="135.90" width="2.60" height="2.60" fill="#000" stroke="#000" stroke-width="0.6"/>
<rect x="200.70" y="133.80" width="2.60" height="2.60" fill="#000" stroke="#000" stroke-width="0.6"/>
<rect x="214.00" y="128.50" width="2.60" height="2.60" fill="#000" stroke="#000" stroke-width="0.6"/>
<rect x="227.30" y="136.30" width="2.60" height="2.60" fill="#000" stroke="#000" stroke-width="0.6"/>
<rect x="240.40" y="135.90" width="2.60" height="2.60" fill="#000" stroke="#000" stroke-width="0.6"/>
<rect x="253.80" y="142.70" width="2.60" height="2.60" fill="#000" stroke="#000" stroke-width="0.6"/>
<path d="M162.40 188.60 L175.50 152.70 L188.60 155.60 L202.00 159.80 L215.30 149.90 L228.60 156.30 L241.70 151.00 L255.10 158.40" stroke="#333" stroke-width="0.75" fill="none"/>
<line x1="175.50" y1="150.50" x2="175.50" y2="155.00" stroke="#333" stroke-width="0.55"/>
<line x1="174.30" y1="150.50" x2="176.70" y2="150.50" stroke="#333" stroke-width="0.55"/>
<line x1="174.30" y1="155.00" x2="176.70" y2="155.00" stroke="#333" stroke-width="0.55"/>
<line x1="188.60" y1="154.50" x2="188.60" y2="156.70" stroke="#333" stroke-width="0.55"/>
<line x1="187.40" y1="154.50" x2="189.80" y2="154.50" stroke="#333" stroke-width="0.55"/>
<line x1="187.40" y1="156.70" x2="189.80" y2="156.70" stroke="#333" stroke-width="0.55"/>
<line x1="202.00" y1="158.50" x2="202.00" y2="161.00" stroke="#333" stroke-width="0.55"/>
<line x1="200.80" y1="158.50" x2="203.20" y2="158.50" stroke="#333" stroke-width="0.55"/>
<line x1="200.80" y1="161.00" x2="203.20" y2="161.00" stroke="#333" stroke-width="0.55"/>
<line x1="215.30" y1="146.30" x2="215.30" y2="153.00" stroke="#333" stroke-width="0.55"/>
<line x1="214.10" y1="146.30" x2="216.50" y2="146.30" stroke="#333" stroke-width="0.55"/>
<line x1="214.10" y1="153.00" x2="216.50" y2="153.00" stroke="#333" stroke-width="0.55"/>
<line x1="228.60" y1="151.40" x2="228.60" y2="161.10" stroke="#333" stroke-width="0.55"/>
<line x1="227.40" y1="151.40" x2="229.80" y2="151.40" stroke="#333" stroke-width="0.55"/>
<line x1="227.40" y1="161.10" x2="229.80" y2="161.10" stroke="#333" stroke-width="0.55"/>
<line x1="241.70" y1="147.80" x2="241.70" y2="153.70" stroke="#333" stroke-width="0.55"/>
<line x1="240.50" y1="147.80" x2="242.90" y2="147.80" stroke="#333" stroke-width="0.55"/>
<line x1="240.50" y1="153.70" x2="242.90" y2="153.70" stroke="#333" stroke-width="0.55"/>
<line x1="255.10" y1="154.10" x2="255.10" y2="162.60" stroke="#333" stroke-width="0.55"/>
<line x1="253.90" y1="154.10" x2="256.30" y2="154.10" stroke="#333" stroke-width="0.55"/>
<line x1="253.90" y1="162.60" x2="256.30" y2="162.60" stroke="#333" stroke-width="0.55"/>
<path d="M162.40 186.91L164.09 188.60L162.40 190.29L160.71 188.60Z" fill="#000" stroke="#000" stroke-width="0.6"/>
<path d="M175.50 151.01L177.19 152.70L175.50 154.39L173.81 152.70Z" fill="#000" stroke="#000" stroke-width="0.6"/>
<path d="M188.60 153.91L190.29 155.60L188.60 157.29L186.91 155.60Z" fill="#000" stroke="#000" stroke-width="0.6"/>
<path d="M202.00 158.11L203.69 159.80L202.00 161.49L200.31 159.80Z" fill="#000" stroke="#000" stroke-width="0.6"/>
<path d="M215.30 148.21L216.99 149.90L215.30 151.59L213.61 149.90Z" fill="#000" stroke="#000" stroke-width="0.6"/>
<path d="M228.60 154.61L230.29 156.30L228.60 157.99L226.91 156.30Z" fill="#000" stroke="#000" stroke-width="0.6"/>
<path d="M241.70 149.31L243.39 151.00L241.70 152.69L240.01 151.00Z" fill="#000" stroke="#000" stroke-width="0.6"/>
<path d="M255.10 156.71L256.79 158.40L255.10 160.09L253.41 158.40Z" fill="#000" stroke="#000" stroke-width="0.6"/>
<path d="M162.40 188.60 L175.50 183.80 L188.60 188.60 L202.00 188.60 L215.30 188.60 L228.60 187.30 L241.70 185.40 L255.10 188.60" stroke="#333" stroke-width="0.75" fill="none"/>
<line x1="175.50" y1="182.30" x2="175.50" y2="185.20" stroke="#333" stroke-width="0.55"/>
<line x1="174.30" y1="182.30" x2="176.70" y2="182.30" stroke="#333" stroke-width="0.55"/>
<line x1="174.30" y1="185.20" x2="176.70" y2="185.20" stroke="#333" stroke-width="0.55"/>
<line x1="228.60" y1="185.50" x2="228.60" y2="189.00" stroke="#333" stroke-width="0.55"/>
<line x1="227.40" y1="185.50" x2="229.80" y2="185.50" stroke="#333" stroke-width="0.55"/>
<line x1="227.40" y1="189.00" x2="229.80" y2="189.00" stroke="#333" stroke-width="0.55"/>
<line x1="241.70" y1="181.00" x2="241.70" y2="188.00" stroke="#333" stroke-width="0.55"/>
<line x1="240.50" y1="181.00" x2="242.90" y2="181.00" stroke="#333" stroke-width="0.55"/>
<line x1="240.50" y1="188.00" x2="242.90" y2="188.00" stroke="#333" stroke-width="0.55"/>
<path d="M162.40 187.04L163.96 189.77L160.84 189.77Z" fill="#000" stroke="#000" stroke-width="0.6"/>
<path d="M175.50 182.24L177.06 184.97L173.94 184.97Z" fill="#000" stroke="#000" stroke-width="0.6"/>
<path d="M188.60 187.04L190.16 189.77L187.04 189.77Z" fill="#000" stroke="#000" stroke-width="0.6"/>
<path d="M202.00 187.04L203.56 189.77L200.44 189.77Z" fill="#000" stroke="#000" stroke-width="0.6"/>
<path d="M215.30 187.04L216.86 189.77L213.74 189.77Z" fill="#000" stroke="#000" stroke-width="0.6"/>
<path d="M228.60 185.74L230.16 188.47L227.04 188.47Z" fill="#000" stroke="#000" stroke-width="0.6"/>
<path d="M241.70 183.84L243.26 186.57L240.14 186.57Z" fill="#000" stroke="#000" stroke-width="0.6"/>
<path d="M255.10 187.04L256.66 189.77L253.54 189.77Z" fill="#000" stroke="#000" stroke-width="0.6"/>
<text x="188.40" y="132.80" font-size="4.8" text-anchor="middle" font-weight="bold" stroke="#000" stroke-width="0.05">#</text>
<text x="202.00" y="132.10" font-size="4.8" text-anchor="middle" font-weight="bold" stroke="#000" stroke-width="0.05">#</text>
<text x="215.30" y="125.80" font-size="4.8" text-anchor="middle" font-weight="bold" stroke="#000" stroke-width="0.05">#</text>
<text x="228.60" y="131.80" font-size="4.6" text-anchor="middle" font-weight="bold" stroke="#000" stroke-width="0.15">*</text>
<text x="279.50" y="119.30" font-size="11.8" font-weight="bold" stroke="#000" stroke-width="0.05">E</text>
<text x="360.00" y="116.40" font-size="7.4" text-anchor="middle" textLength="40.00" lengthAdjust="spacingAndGlyphs" stroke="#000" stroke-width="0.15">Cytotoxicity</text>
<line x1="314.20" y1="120.00" x2="314.20" y2="195.00" stroke="#000" stroke-width="1.0"/>
<line x1="312.20" y1="194.88" x2="314.20" y2="194.88" stroke="#000" stroke-width="0.7"/>
<text x="311.20" y="196.64" font-size="4.9" text-anchor="end" stroke="#000" stroke-width="0.25">-10</text>
<line x1="312.20" y1="182.40" x2="314.20" y2="182.40" stroke="#000" stroke-width="0.7"/>
<text x="311.20" y="184.16" font-size="4.9" text-anchor="end" stroke="#000" stroke-width="0.25">0</text>
<line x1="312.20" y1="169.92" x2="314.20" y2="169.92" stroke="#000" stroke-width="0.7"/>
<text x="311.20" y="171.68" font-size="4.9" text-anchor="end" stroke="#000" stroke-width="0.25">10</text>
<line x1="312.20" y1="157.44" x2="314.20" y2="157.44" stroke="#000" stroke-width="0.7"/>
<text x="311.20" y="159.20" font-size="4.9" text-anchor="end" stroke="#000" stroke-width="0.25">20</text>
<line x1="312.20" y1="144.96" x2="314.20" y2="144.96" stroke="#000" stroke-width="0.7"/>
<text x="311.20" y="146.72" font-size="4.9" text-anchor="end" stroke="#000" stroke-width="0.25">30</text>
<line x1="312.20" y1="132.48" x2="314.20" y2="132.48" stroke="#000" stroke-width="0.7"/>
<text x="311.20" y="134.24" font-size="4.9" text-anchor="end" stroke="#000" stroke-width="0.25">40</text>
<line x1="312.20" y1="120.00" x2="314.20" y2="120.00" stroke="#000" stroke-width="0.7"/>
<text x="311.20" y="121.76" font-size="4.9" text-anchor="end" stroke="#000" stroke-width="0.25">50</text>
<line x1="314.20" y1="188.70" x2="408.60" y2="188.70" stroke="#000" stroke-width="1.2"/>
<line x1="314.20" y1="188.70" x2="314.20" y2="190.70" stroke="#000" stroke-width="0.7"/>
<line x1="333.04" y1="188.70" x2="333.04" y2="190.70" stroke="#000" stroke-width="0.7"/>
<text x="333.04" y="196.30" font-size="4.9" text-anchor="middle" stroke="#000" stroke-width="0.25">20</text>
<line x1="351.88" y1="188.70" x2="351.88" y2="190.70" stroke="#000" stroke-width="0.7"/>
<text x="351.88" y="196.30" font-size="4.9" text-anchor="middle" stroke="#000" stroke-width="0.25">40</text>
<line x1="370.72" y1="188.70" x2="370.72" y2="190.70" stroke="#000" stroke-width="0.7"/>
<text x="370.72" y="196.30" font-size="4.9" text-anchor="middle" stroke="#000" stroke-width="0.25">60</text>
<line x1="389.56" y1="188.70" x2="389.56" y2="190.70" stroke="#000" stroke-width="0.7"/>
<text x="389.56" y="196.30" font-size="4.9" text-anchor="middle" stroke="#000" stroke-width="0.25">80</text>
<line x1="408.40" y1="188.70" x2="408.40" y2="190.70" stroke="#000" stroke-width="0.7"/>
<text x="408.40" y="196.30" font-size="4.9" text-anchor="middle" stroke="#000" stroke-width="0.25">100</text>
<text x="357.50" y="205.20" font-size="5.6" text-anchor="middle" font-weight="bold" textLength="23.00" lengthAdjust="spacingAndGlyphs" stroke="#000" stroke-width="0.15">E:T ratio</text>
<text x="298.00" y="159.20" font-size="6.0" text-anchor="middle" textLength="41.00" lengthAdjust="spacingAndGlyphs" stroke="#000" stroke-width="0.15" transform="rotate(-90 298.00 159.20)">% specific lysis</text>
<path d="M314.48 178.00 L315.14 176.00 L317.03 172.10 L323.62 156.90 L342.46 143.10 L408.40 129.40" stroke="#222" stroke-width="0.75" fill="none"/>
<path d="M314.48 180.00 L315.14 178.00 L317.03 173.20 L323.62 164.70 L342.46 150.50 L408.40 131.90" stroke="#222" stroke-width="0.75" fill="none"/>
<path d="M314.48 186.00 L315.14 185.00 L317.03 184.50 L323.62 184.80 L342.46 182.30 L408.40 188.00" stroke="#777" stroke-width="0.75" fill="none"/>
<path d="M314.48 190.00 L315.14 189.50 L317.03 189.00 L323.62 188.00 L342.46 189.00 L408.40 188.30" stroke="#777" stroke-width="0.75" fill="none"/>
<line x1="408.40" y1="125.20" x2="408.40" y2="138.70" stroke="#333" stroke-width="0.55"/>
<line x1="407.10" y1="125.20" x2="409.70" y2="125.20" stroke="#333" stroke-width="0.55"/>
<line x1="407.10" y1="138.70" x2="409.70" y2="138.70" stroke="#333" stroke-width="0.55"/>
<line x1="323.62" y1="154.10" x2="323.62" y2="166.80" stroke="#333" stroke-width="0.55"/>
<line x1="322.32" y1="154.10" x2="324.92" y2="154.10" stroke="#333" stroke-width="0.55"/>
<line x1="322.32" y1="166.80" x2="324.92" y2="166.80" stroke="#333" stroke-width="0.55"/>
<line x1="323.62" y1="177.40" x2="323.62" y2="191.00" stroke="#333" stroke-width="0.55"/>
<line x1="322.32" y1="177.40" x2="324.92" y2="177.40" stroke="#333" stroke-width="0.55"/>
<line x1="322.32" y1="191.00" x2="324.92" y2="191.00" stroke="#333" stroke-width="0.55"/>
<line x1="342.46" y1="175.30" x2="342.46" y2="182.30" stroke="#333" stroke-width="0.55"/>
<line x1="341.16" y1="175.30" x2="343.76" y2="175.30" stroke="#333" stroke-width="0.55"/>
<line x1="341.16" y1="182.30" x2="343.76" y2="182.30" stroke="#333" stroke-width="0.55"/>
<line x1="342.46" y1="189.00" x2="342.46" y2="193.40" stroke="#333" stroke-width="0.55"/>
<line x1="341.16" y1="189.00" x2="343.76" y2="189.00" stroke="#333" stroke-width="0.55"/>
<line x1="341.16" y1="193.40" x2="343.76" y2="193.40" stroke="#333" stroke-width="0.55"/>
<rect x="313.08" y="184.60" width="2.80" height="2.80" fill="#fff" stroke="#000" stroke-width="0.6"/>
<rect x="313.74" y="183.60" width="2.80" height="2.80" fill="#fff" stroke="#000" stroke-width="0.6"/>
<rect x="315.63" y="183.10" width="2.80" height="2.80" fill="#fff" stroke="#000" stroke-width="0.6"/>
<rect x="322.22" y="183.40" width="2.80" height="2.80" fill="#fff" stroke="#000" stroke-width="0.6"/>
<rect x="341.06" y="180.90" width="2.80" height="2.80" fill="#fff" stroke="#000" stroke-width="0.6"/>
<rect x="407.00" y="186.60" width="2.80" height="2.80" fill="#fff" stroke="#000" stroke-width="0.6"/>
<path d="M314.48 188.18L316.30 190.00L314.48 191.82L312.66 190.00Z" fill="#fff" stroke="#000" stroke-width="0.6"/>
<path d="M315.14 187.68L316.96 189.50L315.14 191.32L313.32 189.50Z" fill="#fff" stroke="#000" stroke-width="0.6"/>
<path d="M317.03 187.18L318.85 189.00L317.03 190.82L315.21 189.00Z" fill="#fff" stroke="#000" stroke-width="0.6"/>
<path d="M323.62 186.18L325.44 188.00L323.62 189.82L321.80 188.00Z" fill="#fff" stroke="#000" stroke-width="0.6"/>
<path d="M342.46 187.18L344.28 189.00L342.46 190.82L340.64 189.00Z" fill="#fff" stroke="#000" stroke-width="0.6"/>
<path d="M408.40 186.48L410.22 188.30L408.40 190.12L406.58 188.30Z" fill="#fff" stroke="#000" stroke-width="0.6"/>
<rect x="313.08" y="178.60" width="2.80" height="2.80" fill="#000" stroke="#000" stroke-width="0.6"/>
<rect x="313.74" y="176.60" width="2.80" height="2.80" fill="#000" stroke="#000" stroke-width="0.6"/>
<rect x="315.63" y="171.80" width="2.80" height="2.80" fill="#000" stroke="#000" stroke-width="0.6"/>
<rect x="322.22" y="163.30" width="2.80" height="2.80" fill="#000" stroke="#000" stroke-width="0.6"/>
<rect x="341.06" y="149.10" width="2.80" height="2.80" fill="#000" stroke="#000" stroke-width="0.6"/>
<rect x="407.00" y="130.50" width="2.80" height="2.80" fill="#000" stroke="#000" stroke-width="0.6"/>
<circle cx="314.48" cy="178.00" r="1.40" fill="#000" stroke="#000" stroke-width="0.6"/>
<circle cx="315.14" cy="176.00" r="1.40" fill="#000" stroke="#000" stroke-width="0.6"/>
<circle cx="317.03" cy="172.10" r="1.40" fill="#000" stroke="#000" stroke-width="0.6"/>
<circle cx="323.62" cy="156.90" r="1.40" fill="#000" stroke="#000" stroke-width="0.6"/>
<circle cx="342.46" cy="143.10" r="1.40" fill="#000" stroke="#000" stroke-width="0.6"/>
<circle cx="408.40" cy="129.40" r="1.40" fill="#000" stroke="#000" stroke-width="0.6"/>
<path d="M315 171 L319 171.5 L319.6 175 L318.2 178 L319.2 181 L318.6 186 L319.2 190 L317.6 193.6 L315 194 L313.6 192 L313.7 182 L314.4 176 Z" fill="#000" filter="url(#bl)"/>
<rect x="322.17" y="183.35" width="2.90" height="2.90" fill="#000" stroke="#000" stroke-width="0.6"/>
<path d="M323.62 186.12L325.50 188.00L323.62 189.88L321.74 188.00Z" fill="#000" stroke="#000" stroke-width="0.6"/>
<line x1="439.10" y1="145.40" x2="445.60" y2="145.40" stroke="#000" stroke-width="0.7"/>
<circle cx="442.40" cy="145.40" r="1.45" fill="#000" stroke="#000" stroke-width="0.6"/>
<text x="449.70" y="146.90" font-size="4.2" textLength="9.94" lengthAdjust="spacingAndGlyphs" stroke="#000" stroke-width="0.03">Bm1&#160;</text>
<line x1="459.64" y1="145.39" x2="462.46" y2="145.39" stroke="#000" stroke-width="0.40700000000000003"/>
<path d="M463.69 145.39L462.26 144.55L462.26 146.23Z" fill="#000"/>
<text x="463.69" y="146.90" font-size="4.2" textLength="41.31" lengthAdjust="spacingAndGlyphs" stroke="#000" stroke-width="0.03">&#160;B6.WT&#160;CD8&#160;T&#160;+&#160;Host</text>
<line x1="439.10" y1="153.90" x2="445.60" y2="153.90" stroke="#000" stroke-width="0.7"/>
<path d="M442.40 152.02L444.28 153.90L442.40 155.78L440.51 153.90Z" fill="#000" stroke="#000" stroke-width="0.6"/>
<text x="449.70" y="155.40" font-size="4.2" textLength="9.77" lengthAdjust="spacingAndGlyphs" stroke="#000" stroke-width="0.03">Bm1&#160;</text>
<line x1="459.47" y1="153.89" x2="462.22" y2="153.89" stroke="#000" stroke-width="0.40700000000000003"/>
<path d="M463.45 153.89L462.02 153.05L462.02 154.73Z" fill="#000"/>
<text x="463.45" y="155.40" font-size="4.2" textLength="22.33" lengthAdjust="spacingAndGlyphs" stroke="#000" stroke-width="0.03">&#160;B6.IFNAR1</text>
<text x="485.78" y="153.72" font-size="2.8560000000000003" textLength="2.69" lengthAdjust="spacingAndGlyphs" stroke="#000" stroke-width="0.05">-/-</text>
<text x="488.47" y="155.40" font-size="4.2" textLength="26.63" lengthAdjust="spacingAndGlyphs" stroke="#000" stroke-width="0.03">&#160;CD8&#160;T&#160;+&#160;Host</text>
<line x1="439.10" y1="160.90" x2="445.60" y2="160.90" stroke="#000" stroke-width="0.7"/>
<rect x="440.95" y="159.45" width="2.90" height="2.90" fill="#fff" stroke="#000" stroke-width="0.6"/>
<text x="449.70" y="162.40" font-size="4.2" textLength="9.78" lengthAdjust="spacingAndGlyphs" stroke="#000" stroke-width="0.03">Bm1&#160;</text>
<line x1="459.48" y1="160.89" x2="462.24" y2="160.89" stroke="#000" stroke-width="0.40700000000000003"/>
<path d="M463.46 160.89L462.04 160.05L462.04 161.73Z" fill="#000"/>
<text x="463.46" y="162.40" font-size="4.2" textLength="43.44" lengthAdjust="spacingAndGlyphs" stroke="#000" stroke-width="0.03">&#160;B6.WT&#160;CD8&#160;T&#160;+&#160;Donor</text>
<line x1="439.10" y1="168.60" x2="445.60" y2="168.60" stroke="#000" stroke-width="0.7"/>
<path d="M442.40 166.72L444.28 168.60L442.40 170.48L440.51 168.60Z" fill="#fff" stroke="#000" stroke-width="0.6"/>
<text x="449.70" y="170.10" font-size="4.2" textLength="9.71" lengthAdjust="spacingAndGlyphs" stroke="#000" stroke-width="0.03">Bm1&#160;</text>
<line x1="459.41" y1="168.59" x2="462.14" y2="168.59" stroke="#000" stroke-width="0.40700000000000003"/>
<path d="M463.37 168.59L461.94 167.75L461.94 169.43Z" fill="#000"/>
<text x="463.37" y="170.10" font-size="4.2" textLength="22.20" lengthAdjust="spacingAndGlyphs" stroke="#000" stroke-width="0.03">&#160;B6.IFNAR1</text>
<text x="485.57" y="168.42" font-size="2.8560000000000003" textLength="2.67" lengthAdjust="spacingAndGlyphs" stroke="#000" stroke-width="0.05">-/-</text>
<text x="488.24" y="170.10" font-size="4.2" textLength="29.26" lengthAdjust="spacingAndGlyphs" stroke="#000" stroke-width="0.03">&#160;CD8&#160;T&#160;+&#160;Donor</text>
<text x="1.80" y="224.00" font-size="11.8" font-weight="bold" stroke="#000" stroke-width="0.05">F</text>
<text x="32.30" y="254.00" font-size="7.4" text-anchor="middle" textLength="34.50" lengthAdjust="spacingAndGlyphs" stroke="#000" stroke-width="0.15">Expansion</text>
<text x="90.10" y="254.00" font-size="7.4" text-anchor="middle" textLength="41.30" lengthAdjust="spacingAndGlyphs" stroke="#000" stroke-width="0.15">Granzyme B</text>
<line x1="21.20" y1="268.00" x2="21.20" y2="331.20" stroke="#000" stroke-width="1.0"/>
<line x1="19.20" y1="331.20" x2="21.20" y2="331.20" stroke="#000" stroke-width="0.7"/>
<text x="18.20" y="332.96" font-size="4.9" text-anchor="end" stroke="#000" stroke-width="0.25">0.0</text>
<line x1="19.20" y1="315.40" x2="21.20" y2="315.40" stroke="#000" stroke-width="0.7"/>
<text x="18.20" y="317.16" font-size="4.9" text-anchor="end" stroke="#000" stroke-width="0.25">0.5</text>
<line x1="19.20" y1="299.60" x2="21.20" y2="299.60" stroke="#000" stroke-width="0.7"/>
<text x="18.20" y="301.36" font-size="4.9" text-anchor="end" stroke="#000" stroke-width="0.25">1.0</text>
<line x1="19.20" y1="283.80" x2="21.20" y2="283.80" stroke="#000" stroke-width="0.7"/>
<text x="18.20" y="285.56" font-size="4.9" text-anchor="end" stroke="#000" stroke-width="0.25">1.5</text>
<line x1="19.20" y1="268.00" x2="21.20" y2="268.00" stroke="#000" stroke-width="0.7"/>
<text x="18.20" y="269.76" font-size="4.9" text-anchor="end" stroke="#000" stroke-width="0.25">2.0</text>
<line x1="21.20" y1="331.20" x2="44.60" y2="331.20" stroke="#000" stroke-width="1.0"/>
<rect x="22.9" y="284.12" width="8.2" height="47.08" fill="#fff" stroke="#555" stroke-width="0.85"/>
<rect x="35.0" y="287.59" width="8.7" height="43.61" fill="#000"/>
<line x1="27.00" y1="277.00" x2="27.00" y2="284.12" stroke="#000" stroke-width="0.65"/>
<line x1="25.40" y1="277.00" x2="28.60" y2="277.00" stroke="#000" stroke-width="0.65"/>
<line x1="39.35" y1="282.50" x2="39.35" y2="287.59" stroke="#000" stroke-width="0.65"/>
<line x1="37.75" y1="282.50" x2="40.95" y2="282.50" stroke="#000" stroke-width="0.65"/>
<text x="8.90" y="299.00" font-size="5.2" text-anchor="middle" font-weight="bold" textLength="50.00" lengthAdjust="spacingAndGlyphs" stroke="#000" stroke-width="0.05" transform="rotate(-90 8.90 299.00)">CD8a / spleen (x10<tspan font-size="3.2" dy="-2">6</tspan><tspan dy="2">)</tspan></text>
<line x1="74.50" y1="265.50" x2="74.50" y2="331.60" stroke="#000" stroke-width="1.0"/>
<line x1="72.50" y1="331.60" x2="74.50" y2="331.60" stroke="#000" stroke-width="0.7"/>
<text x="71.50" y="333.36" font-size="4.9" text-anchor="end" stroke="#000" stroke-width="0.25">0</text>
<line x1="72.50" y1="315.08" x2="74.50" y2="315.08" stroke="#000" stroke-width="0.7"/>
<text x="71.50" y="316.84" font-size="4.9" text-anchor="end" stroke="#000" stroke-width="0.25">20</text>
<line x1="72.50" y1="298.55" x2="74.50" y2="298.55" stroke="#000" stroke-width="0.7"/>
<text x="71.50" y="300.31" font-size="4.9" text-anchor="end" stroke="#000" stroke-width="0.25">40</text>
<line x1="72.50" y1="282.02" x2="74.50" y2="282.02" stroke="#000" stroke-width="0.7"/>
<text x="71.50" y="283.79" font-size="4.9" text-anchor="end" stroke="#000" stroke-width="0.25">60</text>
<line x1="72.50" y1="265.50" x2="74.50" y2="265.50" stroke="#000" stroke-width="0.7"/>
<text x="71.50" y="267.26" font-size="4.9" text-anchor="end" stroke="#000" stroke-width="0.25">80</text>
<line x1="74.50" y1="331.60" x2="102.50" y2="331.60" stroke="#000" stroke-width="1.0"/>
<rect x="78.5" y="288.63" width="8.3" height="42.97" fill="#fff" stroke="#555" stroke-width="0.85"/>
<rect x="90.8" y="279.13" width="8.8" height="52.47" fill="#000"/>
<line x1="82.65" y1="285.60" x2="82.65" y2="288.63" stroke="#000" stroke-width="0.65"/>
<line x1="81.05" y1="285.60" x2="84.25" y2="285.60" stroke="#000" stroke-width="0.65"/>
<line x1="95.20" y1="276.60" x2="95.20" y2="279.13" stroke="#000" stroke-width="0.65"/>
<line x1="93.60" y1="276.60" x2="96.80" y2="276.60" stroke="#000" stroke-width="0.65"/>
<text x="62.00" y="298.00" font-size="5.4" text-anchor="middle" font-weight="bold" textLength="42.40" lengthAdjust="spacingAndGlyphs" stroke="#000" stroke-width="0.05" transform="rotate(-90 62.00 298.00)">% Granzyme B+</text>
<rect x="16.6" y="341.8" width="8.8" height="5.4" fill="#fff" stroke="#555" stroke-width="0.85"/>
<rect x="16.5" y="352.0" width="8.8" height="4.6" fill="#000"/>
<text x="29.80" y="346.70" font-size="6.1" textLength="27.23" lengthAdjust="spacingAndGlyphs" stroke="#000" stroke-width="0.1">C3H.SW&#160;</text>
<line x1="57.03" y1="344.50" x2="62.34" y2="344.50" stroke="#000" stroke-width="0.5685"/>
<path d="M64.22 344.50L62.14 343.28L62.14 345.72Z" fill="#000"/>
<text x="64.22" y="346.70" font-size="6.1" textLength="21.78" lengthAdjust="spacingAndGlyphs" stroke="#000" stroke-width="0.1">&#160;B6.WT</text>
<text x="29.80" y="356.40" font-size="6.1" textLength="27.57" lengthAdjust="spacingAndGlyphs" stroke="#000" stroke-width="0.1">C3H.SW&#160;</text>
<line x1="57.37" y1="354.20" x2="62.78" y2="354.20" stroke="#000" stroke-width="0.5685"/>
<path d="M64.65 354.20L62.58 352.98L62.58 355.42Z" fill="#000"/>
<text x="64.65" y="356.40" font-size="6.1" textLength="35.30" lengthAdjust="spacingAndGlyphs" stroke="#000" stroke-width="0.1">&#160;B6.IFNAR1</text>
<text x="99.95" y="353.96" font-size="4.148" textLength="4.25" lengthAdjust="spacingAndGlyphs" stroke="#000" stroke-width="0.05">-/-</text>
<text x="182.50" y="254.00" font-size="7.4" text-anchor="middle" textLength="40.00" lengthAdjust="spacingAndGlyphs" stroke="#000" stroke-width="0.15">Cytotoxicity</text>
<line x1="132.30" y1="264.30" x2="132.30" y2="326.80" stroke="#000" stroke-width="1.0"/>
<line x1="130.30" y1="321.00" x2="132.30" y2="321.00" stroke="#000" stroke-width="0.7"/>
<text x="129.30" y="322.76" font-size="4.9" text-anchor="end" stroke="#000" stroke-width="0.25">0</text>
<line x1="130.30" y1="309.76" x2="132.30" y2="309.76" stroke="#000" stroke-width="0.7"/>
<text x="129.30" y="311.52" font-size="4.9" text-anchor="end" stroke="#000" stroke-width="0.25">10</text>
<line x1="130.30" y1="298.52" x2="132.30" y2="298.52" stroke="#000" stroke-width="0.7"/>
<text x="129.30" y="300.28" font-size="4.9" text-anchor="end" stroke="#000" stroke-width="0.25">20</text>
<line x1="130.30" y1="287.28" x2="132.30" y2="287.28" stroke="#000" stroke-width="0.7"/>
<text x="129.30" y="289.04" font-size="4.9" text-anchor="end" stroke="#000" stroke-width="0.25">30</text>
<line x1="130.30" y1="276.04" x2="132.30" y2="276.04" stroke="#000" stroke-width="0.7"/>
<text x="129.30" y="277.80" font-size="4.9" text-anchor="end" stroke="#000" stroke-width="0.25">40</text>
<line x1="130.30" y1="264.80" x2="132.30" y2="264.80" stroke="#000" stroke-width="0.7"/>
<text x="129.30" y="266.56" font-size="4.9" text-anchor="end" stroke="#000" stroke-width="0.25">50</text>
<line x1="132.30" y1="326.80" x2="225.80" y2="326.80" stroke="#000" stroke-width="1.2"/>
<line x1="132.30" y1="326.80" x2="132.30" y2="328.80" stroke="#000" stroke-width="0.7"/>
<text x="132.30" y="334.00" font-size="4.9" text-anchor="middle" stroke="#000" stroke-width="0.25">0</text>
<line x1="151.00" y1="326.80" x2="151.00" y2="328.80" stroke="#000" stroke-width="0.7"/>
<text x="151.00" y="334.00" font-size="4.9" text-anchor="middle" stroke="#000" stroke-width="0.25">20</text>
<line x1="169.70" y1="326.80" x2="169.70" y2="328.80" stroke="#000" stroke-width="0.7"/>
<text x="169.70" y="334.00" font-size="4.9" text-anchor="middle" stroke="#000" stroke-width="0.25">40</text>
<line x1="188.40" y1="326.80" x2="188.40" y2="328.80" stroke="#000" stroke-width="0.7"/>
<text x="188.40" y="334.00" font-size="4.9" text-anchor="middle" stroke="#000" stroke-width="0.25">60</text>
<line x1="207.10" y1="326.80" x2="207.10" y2="328.80" stroke="#000" stroke-width="0.7"/>
<text x="207.10" y="334.00" font-size="4.9" text-anchor="middle" stroke="#000" stroke-width="0.25">80</text>
<line x1="225.80" y1="326.80" x2="225.80" y2="328.80" stroke="#000" stroke-width="0.7"/>
<text x="225.80" y="334.00" font-size="4.9" text-anchor="middle" stroke="#000" stroke-width="0.25">100</text>
<text x="178.80" y="343.30" font-size="5.6" text-anchor="middle" font-weight="bold" textLength="23.00" lengthAdjust="spacingAndGlyphs" stroke="#000" stroke-width="0.15">E:T ratio</text>
<text x="119.60" y="296.20" font-size="5.1" text-anchor="middle" font-weight="bold" textLength="37.60" lengthAdjust="spacingAndGlyphs" stroke="#000" stroke-width="0.05" transform="rotate(-90 119.60 296.20)">% specific lysis</text>
<path d="M132.58 321.00 L133.24 317.50 L135.11 309.80 L141.65 298.60 L160.35 285.90 L225.80 273.90" stroke="#333" stroke-width="0.75" fill="none"/>
<path d="M132.58 322.20 L133.24 319.50 L135.11 312.00 L141.65 303.50 L160.35 293.50 L225.80 281.30" stroke="#333" stroke-width="0.75" fill="none"/>
<path d="M132.58 323.20 L133.24 322.60 L135.11 321.30 L141.65 320.80 L160.35 318.70 L225.80 314.70" stroke="#333" stroke-width="0.75" fill="none"/>
<path d="M132.58 323.80 L133.24 323.00 L135.11 322.00 L141.65 320.90 L160.35 320.40 L225.80 315.80" stroke="#333" stroke-width="0.75" fill="none"/>
<rect x="131.13" y="321.75" width="2.90" height="2.90" fill="#fff" stroke="#000" stroke-width="0.6"/>
<rect x="131.79" y="321.15" width="2.90" height="2.90" fill="#fff" stroke="#000" stroke-width="0.6"/>
<rect x="133.66" y="319.85" width="2.90" height="2.90" fill="#fff" stroke="#000" stroke-width="0.6"/>
<rect x="140.20" y="319.35" width="2.90" height="2.90" fill="#fff" stroke="#000" stroke-width="0.6"/>
<rect x="158.90" y="317.25" width="2.90" height="2.90" fill="#fff" stroke="#000" stroke-width="0.6"/>
<rect x="224.35" y="313.25" width="2.90" height="2.90" fill="#fff" stroke="#000" stroke-width="0.6"/>
<circle cx="132.58" cy="323.80" r="1.45" fill="#fff" stroke="#000" stroke-width="0.6"/>
<circle cx="133.24" cy="323.00" r="1.45" fill="#fff" stroke="#000" stroke-width="0.6"/>
<circle cx="135.11" cy="322.00" r="1.45" fill="#fff" stroke="#000" stroke-width="0.6"/>
<circle cx="141.65" cy="320.90" r="1.45" fill="#fff" stroke="#000" stroke-width="0.6"/>
<circle cx="160.35" cy="320.40" r="1.45" fill="#fff" stroke="#000" stroke-width="0.6"/>
<circle cx="225.80" cy="315.80" r="1.45" fill="#fff" stroke="#000" stroke-width="0.6"/>
<path d="M132.58 320.31L134.47 322.20L132.58 324.08L130.70 322.20Z" fill="#000" stroke="#000" stroke-width="0.6"/>
<path d="M133.24 317.62L135.12 319.50L133.24 321.38L131.35 319.50Z" fill="#000" stroke="#000" stroke-width="0.6"/>
<path d="M135.11 310.12L136.99 312.00L135.11 313.88L133.22 312.00Z" fill="#000" stroke="#000" stroke-width="0.6"/>
<path d="M141.65 301.62L143.53 303.50L141.65 305.38L139.77 303.50Z" fill="#000" stroke="#000" stroke-width="0.6"/>
<path d="M160.35 291.62L162.24 293.50L160.35 295.38L158.47 293.50Z" fill="#000" stroke="#000" stroke-width="0.6"/>
<path d="M225.80 279.42L227.69 281.30L225.80 283.19L223.92 281.30Z" fill="#000" stroke="#000" stroke-width="0.6"/>
<circle cx="132.58" cy="321.00" r="1.45" fill="#000" stroke="#000" stroke-width="0.6"/>
<circle cx="133.24" cy="317.50" r="1.45" fill="#000" stroke="#000" stroke-width="0.6"/>
<circle cx="135.11" cy="309.80" r="1.45" fill="#000" stroke="#000" stroke-width="0.6"/>
<circle cx="141.65" cy="298.60" r="1.45" fill="#000" stroke="#000" stroke-width="0.6"/>
<circle cx="160.35" cy="285.90" r="1.45" fill="#000" stroke="#000" stroke-width="0.6"/>
<circle cx="225.80" cy="273.90" r="1.45" fill="#000" stroke="#000" stroke-width="0.6"/>
<line x1="130.50" y1="349.50" x2="137.00" y2="349.50" stroke="#000" stroke-width="0.7"/>
<rect x="132.25" y="347.95" width="3.10" height="3.10" fill="#000" stroke="#000" stroke-width="0.6"/>
<text x="143.20" y="351.20" font-size="4.8" textLength="21.31" lengthAdjust="spacingAndGlyphs" stroke="#000" stroke-width="0.05">C3H.SW&#160;</text>
<line x1="164.51" y1="349.47" x2="168.19" y2="349.47" stroke="#000" stroke-width="0.458"/>
<path d="M169.62 349.47L167.99 348.51L167.99 350.43Z" fill="#000"/>
<text x="169.62" y="351.20" font-size="4.8" textLength="49.58" lengthAdjust="spacingAndGlyphs" stroke="#000" stroke-width="0.05">&#160;B6.WT&#160;CD8&#160;T&#160;+&#160;Host</text>
<line x1="130.50" y1="359.20" x2="137.00" y2="359.20" stroke="#000" stroke-width="0.7"/>
<circle cx="133.80" cy="359.20" r="1.55" fill="#000" stroke="#000" stroke-width="0.6"/>
<text x="143.20" y="360.90" font-size="4.8" textLength="20.95" lengthAdjust="spacingAndGlyphs" stroke="#000" stroke-width="0.05">C3H.SW&#160;</text>
<line x1="164.15" y1="359.17" x2="167.74" y2="359.17" stroke="#000" stroke-width="0.458"/>
<path d="M169.17 359.17L167.54 358.21L167.54 360.13Z" fill="#000"/>
<text x="169.17" y="360.90" font-size="4.8" textLength="26.82" lengthAdjust="spacingAndGlyphs" stroke="#000" stroke-width="0.05">&#160;B6.IFNAR1</text>
<text x="195.99" y="358.98" font-size="3.2640000000000002" textLength="3.23" lengthAdjust="spacingAndGlyphs" stroke="#000" stroke-width="0.05">-/-</text>
<text x="199.22" y="360.90" font-size="4.8" textLength="31.98" lengthAdjust="spacingAndGlyphs" stroke="#000" stroke-width="0.05">&#160;CD8&#160;T&#160;+&#160;Host</text>
<line x1="130.50" y1="367.50" x2="137.00" y2="367.50" stroke="#000" stroke-width="0.7"/>
<rect x="132.25" y="365.95" width="3.10" height="3.10" fill="#fff" stroke="#000" stroke-width="0.6"/>
<text x="143.20" y="369.20" font-size="4.8" textLength="20.93" lengthAdjust="spacingAndGlyphs" stroke="#000" stroke-width="0.05">C3H.SW&#160;</text>
<line x1="164.13" y1="367.47" x2="167.72" y2="367.47" stroke="#000" stroke-width="0.458"/>
<path d="M169.15 367.47L167.52 366.51L167.52 368.43Z" fill="#000"/>
<text x="169.15" y="369.20" font-size="4.8" textLength="52.05" lengthAdjust="spacingAndGlyphs" stroke="#000" stroke-width="0.05">&#160;B6.WT&#160;CD8&#160;T&#160;+&#160;Donor</text>
<line x1="130.50" y1="376.20" x2="137.00" y2="376.20" stroke="#000" stroke-width="0.7"/>
<circle cx="133.80" cy="376.20" r="1.55" fill="#fff" stroke="#000" stroke-width="0.6"/>
<text x="143.20" y="377.90" font-size="4.8" textLength="20.86" lengthAdjust="spacingAndGlyphs" stroke="#000" stroke-width="0.05">C3H.SW&#160;</text>
<line x1="164.06" y1="376.17" x2="167.64" y2="376.17" stroke="#000" stroke-width="0.458"/>
<path d="M169.07 376.17L167.44 375.21L167.44 377.13Z" fill="#000"/>
<text x="169.07" y="377.90" font-size="4.8" textLength="26.71" lengthAdjust="spacingAndGlyphs" stroke="#000" stroke-width="0.05">&#160;B6.IFNAR1</text>
<text x="195.78" y="375.98" font-size="3.2640000000000002" textLength="3.21" lengthAdjust="spacingAndGlyphs" stroke="#000" stroke-width="0.05">-/-</text>
<text x="199.00" y="377.90" font-size="4.8" textLength="35.20" lengthAdjust="spacingAndGlyphs" stroke="#000" stroke-width="0.05">&#160;CD8&#160;T&#160;+&#160;Donor</text>
<text x="238.30" y="234.20" font-size="11.8" font-weight="bold" stroke="#000" stroke-width="0.05">G</text>
<line x1="271.40" y1="253.70" x2="271.40" y2="327.60" stroke="#000" stroke-width="1.0"/>
<line x1="269.40" y1="327.60" x2="271.40" y2="327.60" stroke="#000" stroke-width="0.7"/>
<text x="268.40" y="329.36" font-size="4.9" text-anchor="end" stroke="#000" stroke-width="0.25">0.0</text>
<line x1="269.40" y1="302.97" x2="271.40" y2="302.97" stroke="#000" stroke-width="0.7"/>
<text x="268.40" y="304.73" font-size="4.9" text-anchor="end" stroke="#000" stroke-width="0.25">0.5</text>
<line x1="269.40" y1="278.33" x2="271.40" y2="278.33" stroke="#000" stroke-width="0.7"/>
<text x="268.40" y="280.10" font-size="4.9" text-anchor="end" stroke="#000" stroke-width="0.25">1.0</text>
<line x1="269.40" y1="253.70" x2="271.40" y2="253.70" stroke="#000" stroke-width="0.7"/>
<text x="268.40" y="255.46" font-size="4.9" text-anchor="end" stroke="#000" stroke-width="0.25">1.5</text>
<line x1="271.40" y1="327.60" x2="299.80" y2="327.60" stroke="#000" stroke-width="1.0"/>
<rect x="273.0" y="278.33" width="10.5" height="49.27" fill="#fff" stroke="#555" stroke-width="0.85"/>
<rect x="288.4" y="257.15" width="9.6" height="70.45" fill="#000"/>
<line x1="276.60" y1="277.30" x2="279.60" y2="277.30" stroke="#000" stroke-width="0.6"/>
<line x1="290.80" y1="255.40" x2="295.80" y2="255.40" stroke="#000" stroke-width="0.6"/>
<text x="292.80" y="253.00" font-size="4.2" text-anchor="middle" stroke="#000" stroke-width="0.15">#</text>
<text x="261.60" y="289.00" font-size="6.5" text-anchor="middle" font-weight="bold" textLength="70.50" lengthAdjust="spacingAndGlyphs" stroke="#000" stroke-width="0.05" transform="rotate(-90 261.60 289.00)">ratio AR1:WT host targets</text>
<rect x="261.5" y="343.8" width="9.0" height="4.6" fill="#fff" stroke="#555" stroke-width="0.85"/>
<rect x="261.1" y="353.4" width="9.6" height="4.6" fill="#000"/>
<text x="275.50" y="348.50" font-size="6.8" textLength="27.00" lengthAdjust="spacingAndGlyphs" stroke="#000" stroke-width="0.15">No GVHD</text>
<text x="275.50" y="358.40" font-size="6.8" textLength="17.50" lengthAdjust="spacingAndGlyphs" stroke="#000" stroke-width="0.15">GVHD</text>
<defs><filter id="bl" x="-50%" y="-50%" width="200%" height="200%"><feGaussianBlur stdDeviation="0.55"/></filter><filter id="bl2" x="-50%" y="-50%" width="200%" height="200%"><feGaussianBlur stdDeviation="1.2"/></filter></defs>
<text x="361.15" y="233.60" font-size="6.0" text-anchor="middle" font-weight="bold" textLength="19.00" lengthAdjust="spacingAndGlyphs" stroke="#000" stroke-width="0.15">GVHD</text>
<rect x="334.7" y="235.4" width="52.900000000000034" height="52.900000000000006" fill="none" stroke="#333" stroke-width="0.65"/>
<rect x="336.1" y="242.9" width="15.799999999999955" height="12.599999999999994" fill="none" stroke="#444" stroke-width="0.55"/>
<rect x="358.3" y="260.2" width="17.30000000000001" height="20.600000000000023" fill="none" stroke="#444" stroke-width="0.55"/>
<text x="337.40" y="240.90" font-size="4.3" textLength="13.70" lengthAdjust="spacingAndGlyphs" stroke="#000" stroke-width="0.16">0.32%</text>
<text x="360.10" y="258.60" font-size="4.3" textLength="13.80" lengthAdjust="spacingAndGlyphs" stroke="#000" stroke-width="0.16">0.49%</text>
<text x="333.30" y="241.69" font-size="2.8" text-anchor="end" fill="#444">10<tspan font-size="1.8" dy="-1.2">x</tspan></text>
<text x="333.30" y="253.86" font-size="2.8" text-anchor="end" fill="#444">10<tspan font-size="1.8" dy="-1.2">x</tspan></text>
<text x="333.30" y="266.02" font-size="2.8" text-anchor="end" fill="#444">10<tspan font-size="1.8" dy="-1.2">x</tspan></text>
<text x="333.30" y="278.72" font-size="2.8" text-anchor="end" fill="#444">10<tspan font-size="1.8" dy="-1.2">x</tspan></text>
<text x="333.30" y="284.01" font-size="2.8" text-anchor="end" fill="#444">10<tspan font-size="1.8" dy="-1.2">x</tspan></text>
<text x="341.05" y="293.70" font-size="2.8" text-anchor="middle" fill="#444">10<tspan font-size="1.8" dy="-1.2">x</tspan></text>
<text x="347.40" y="293.70" font-size="2.8" text-anchor="middle" fill="#444">10<tspan font-size="1.8" dy="-1.2">x</tspan></text>
<text x="357.45" y="293.70" font-size="2.8" text-anchor="middle" fill="#444">10<tspan font-size="1.8" dy="-1.2">x</tspan></text>
<text x="369.61" y="293.70" font-size="2.8" text-anchor="middle" fill="#444">10<tspan font-size="1.8" dy="-1.2">x</tspan></text>
<text x="380.72" y="293.70" font-size="2.8" text-anchor="middle" fill="#444">10<tspan font-size="1.8" dy="-1.2">x</tspan></text>
<path d="M342.1 263.1h0.01M342.2 261.5h0.01M339.7 262.2h0.01M346.9 262.1h0.01M346.6 261.9h0.01M344.4 262.1h0.01M337.2 264.6h0.01M344.8 262.6h0.01M337.1 259.7h0.01M339.9 261.6h0.01M344.1 261.7h0.01M344.8 260.5h0.01M344.1 262.6h0.01M340.7 265.7h0.01M344.9 263.9h0.01M340.8 261.0h0.01M341.8 262.0h0.01M345.2 262.1h0.01M341.4 260.4h0.01M341.2 264.6h0.01M340.2 263.0h0.01M344.5 258.9h0.01M343.2 264.5h0.01M335.9 262.6h0.01M342.6 260.5h0.01M344.7 261.6h0.01M337.9 264.5h0.01M345.3 263.4h0.01M348.0 261.8h0.01M343.4 259.4h0.01M345.2 260.5h0.01M341.4 259.9h0.01M339.6 261.6h0.01M347.5 257.4h0.01M337.9 263.3h0.01M348.1 262.2h0.01M336.4 258.3h0.01M344.3 260.4h0.01M339.1 264.5h0.01M346.9 261.6h0.01M343.9 262.7h0.01M348.6 262.2h0.01M344.8 262.7h0.01M337.5 265.4h0.01M346.3 262.4h0.01M336.1 262.0h0.01M345.9 258.0h0.01M342.4 264.1h0.01M338.4 265.9h0.01M344.9 261.4h0.01M344.1 263.0h0.01M343.4 264.1h0.01M340.7 261.6h0.01M346.6 261.4h0.01M339.9 264.3h0.01M348.1 260.3h0.01M338.2 262.6h0.01M342.5 261.5h0.01M347.9 259.2h0.01M347.4 258.8h0.01" stroke="#000" stroke-width="0.6" stroke-linecap="round" opacity="0.25"/>
<path d="M337.7 280.2h0.01M348.2 278.9h0.01M343.9 274.6h0.01M342.8 278.3h0.01M341.0 276.5h0.01M345.1 273.1h0.01M346.2 277.2h0.01M353.1 273.3h0.01M339.6 271.8h0.01M341.9 281.3h0.01M340.1 277.6h0.01M352.1 251.0h0.01M335.8 277.7h0.01M344.2 275.2h0.01M339.6 279.8h0.01M343.6 269.5h0.01M355.4 272.9h0.01M339.0 274.1h0.01M340.8 273.9h0.01M347.5 263.2h0.01M341.6 281.6h0.01M346.7 284.3h0.01M340.1 279.4h0.01M348.0 251.2h0.01M348.0 260.9h0.01M345.8 261.2h0.01M343.0 283.1h0.01M341.2 275.7h0.01M346.4 273.8h0.01M341.5 286.2h0.01M347.8 270.0h0.01M357.1 260.6h0.01M347.0 270.5h0.01M342.7 279.3h0.01M343.2 278.7h0.01M345.4 265.5h0.01M336.4 264.1h0.01M349.0 277.8h0.01M350.1 264.3h0.01M342.0 265.1h0.01M346.2 285.2h0.01M337.1 287.7h0.01M347.4 271.0h0.01M341.5 269.4h0.01M344.2 276.6h0.01M350.2 263.6h0.01M348.2 283.8h0.01M350.0 270.3h0.01M337.9 283.2h0.01M342.6 274.8h0.01M349.8 269.7h0.01M343.7 268.7h0.01M341.9 280.5h0.01M342.4 284.3h0.01M341.7 282.3h0.01M350.2 284.2h0.01M338.3 282.0h0.01M340.9 274.1h0.01M338.7 276.8h0.01M351.9 271.5h0.01M344.9 281.0h0.01M340.9 264.4h0.01M338.9 283.3h0.01M347.5 278.6h0.01M342.0 280.3h0.01M342.9 264.5h0.01M347.1 268.1h0.01M337.0 269.4h0.01M335.5 278.7h0.01M338.5 259.8h0.01M346.0 270.7h0.01M343.6 269.9h0.01M346.3 278.6h0.01M345.7 275.5h0.01M349.3 277.0h0.01M344.5 256.9h0.01M346.9 282.8h0.01M340.4 270.8h0.01M352.7 257.1h0.01M336.9 280.9h0.01M352.4 270.0h0.01M345.1 280.2h0.01M337.0 274.8h0.01M343.6 280.0h0.01M341.8 272.5h0.01M336.4 272.8h0.01M346.9 273.4h0.01M337.3 268.8h0.01M356.7 278.7h0.01M345.5 252.7h0.01M345.4 276.8h0.01M351.3 274.7h0.01M341.6 278.2h0.01M343.8 268.0h0.01M349.3 286.1h0.01M343.6 275.0h0.01M339.8 267.0h0.01M353.7 278.7h0.01M335.4 265.4h0.01M351.4 279.0h0.01M352.0 277.4h0.01M337.2 277.4h0.01M341.7 278.2h0.01M338.0 274.2h0.01M344.5 276.2h0.01M345.5 274.6h0.01M340.2 280.7h0.01M342.3 267.4h0.01M338.6 275.0h0.01M341.4 275.4h0.01M342.0 275.4h0.01M341.3 264.4h0.01M344.3 281.6h0.01M344.4 271.8h0.01M344.5 265.7h0.01M336.9 281.3h0.01M336.0 255.1h0.01M339.9 263.9h0.01M337.8 279.3h0.01M344.7 274.6h0.01M350.2 277.2h0.01M341.9 278.7h0.01M351.1 279.0h0.01M347.6 263.9h0.01M341.2 280.0h0.01M340.4 282.9h0.01M345.3 280.2h0.01M348.8 270.3h0.01M340.1 281.4h0.01M347.4 272.5h0.01M335.6 277.3h0.01M344.0 282.3h0.01M346.3 272.9h0.01M346.7 276.9h0.01M343.1 274.1h0.01M340.7 279.8h0.01M336.2 270.8h0.01M342.0 262.5h0.01M339.6 259.0h0.01M338.2 279.5h0.01M345.1 272.7h0.01M340.7 263.3h0.01M352.1 275.1h0.01M348.0 265.3h0.01M341.0 260.0h0.01M346.3 280.1h0.01M345.5 259.2h0.01M338.5 264.0h0.01M342.2 275.9h0.01M345.5 278.5h0.01M350.3 280.7h0.01M336.2 267.3h0.01M341.6 274.2h0.01M344.7 260.8h0.01M340.9 271.9h0.01M341.7 268.1h0.01M345.9 275.7h0.01M341.5 268.9h0.01M341.0 252.9h0.01M336.6 275.9h0.01M342.8 263.0h0.01M340.6 271.9h0.01M344.5 278.1h0.01M341.8 267.4h0.01M341.2 273.7h0.01M346.0 275.1h0.01M338.0 264.5h0.01M339.9 268.8h0.01M335.9 274.9h0.01M339.3 275.6h0.01M344.9 269.9h0.01M354.8 267.8h0.01M348.1 273.2h0.01M348.1 253.6h0.01M337.9 277.1h0.01M343.8 283.5h0.01M346.2 280.2h0.01M344.8 272.0h0.01M344.8 264.7h0.01M348.5 264.1h0.01M340.8 274.5h0.01M348.4 272.3h0.01M337.6 277.3h0.01M345.2 278.6h0.01M351.2 271.5h0.01M343.5 270.2h0.01M349.8 266.2h0.01M345.7 269.2h0.01M338.2 280.7h0.01M349.3 271.8h0.01M338.3 281.4h0.01M341.7 276.5h0.01M350.4 280.4h0.01M342.0 280.2h0.01M338.4 274.7h0.01M349.5 262.3h0.01M348.5 268.5h0.01M341.7 271.6h0.01M341.3 265.7h0.01M342.1 262.7h0.01M341.6 276.5h0.01M344.6 271.4h0.01M337.0 276.7h0.01M339.3 287.0h0.01M346.2 271.9h0.01M339.4 269.2h0.01M336.8 272.7h0.01M343.6 277.6h0.01M338.1 275.2h0.01M357.4 254.9h0.01M339.1 276.2h0.01M342.8 276.9h0.01M340.7 277.3h0.01M342.3 280.0h0.01M342.0 265.9h0.01M336.3 280.6h0.01M338.4 280.0h0.01M346.1 275.2h0.01M344.8 272.4h0.01M344.5 269.1h0.01" stroke="#000" stroke-width="0.64" stroke-linecap="round" opacity="0.35"/>
<path d="M350.6 263.6h0.01M347.5 264.6h0.01M358.5 258.1h0.01M351.6 261.5h0.01M357.2 260.3h0.01M354.6 259.3h0.01M350.9 262.0h0.01M343.9 267.5h0.01M354.6 257.2h0.01M354.0 260.6h0.01M352.8 262.1h0.01M345.0 263.8h0.01M357.0 258.6h0.01M346.9 260.8h0.01M346.1 264.5h0.01M357.8 260.3h0.01M352.0 266.1h0.01M348.9 261.4h0.01M353.1 262.3h0.01M346.9 261.2h0.01M352.2 262.1h0.01M345.8 263.6h0.01M348.8 263.7h0.01M350.5 262.0h0.01M349.6 264.6h0.01M356.6 259.2h0.01M354.4 259.2h0.01M351.3 263.4h0.01M357.1 259.0h0.01M350.7 262.5h0.01M345.0 264.3h0.01M348.3 263.8h0.01M346.5 259.7h0.01M351.2 262.5h0.01M348.8 264.6h0.01M349.9 261.2h0.01M352.9 258.1h0.01M348.3 263.0h0.01M354.4 260.4h0.01M352.2 260.2h0.01M352.2 264.9h0.01M348.3 267.8h0.01M348.4 263.0h0.01M351.7 263.8h0.01M346.1 259.7h0.01M353.4 262.7h0.01M353.5 266.3h0.01M351.8 262.2h0.01M354.7 261.3h0.01M357.7 257.0h0.01M349.5 255.7h0.01M354.2 260.0h0.01M354.7 264.9h0.01M351.0 261.5h0.01M349.0 261.1h0.01M348.5 264.2h0.01M351.1 262.1h0.01M350.3 264.1h0.01M353.0 261.0h0.01M353.7 260.7h0.01M346.4 266.6h0.01M352.9 259.4h0.01M355.3 261.1h0.01M344.7 267.6h0.01M352.3 263.3h0.01M351.8 261.4h0.01M344.8 266.3h0.01M351.1 261.4h0.01M352.4 261.6h0.01M353.7 260.2h0.01M350.9 257.8h0.01M349.3 264.0h0.01M356.3 259.3h0.01M350.5 265.3h0.01M349.7 264.0h0.01M357.7 259.6h0.01M355.9 258.7h0.01M351.8 261.5h0.01M351.5 264.1h0.01M360.6 257.1h0.01" stroke="#000" stroke-width="0.64" stroke-linecap="round" opacity="0.3"/>
<path d="M348.3 260.9h0.01M346.8 261.2h0.01M351.7 259.3h0.01M351.6 258.1h0.01M352.3 258.0h0.01M347.9 260.0h0.01M348.8 261.1h0.01M350.2 259.6h0.01M351.6 261.1h0.01M350.0 260.3h0.01M353.7 259.4h0.01M346.1 263.3h0.01M356.6 256.5h0.01M349.9 260.4h0.01M352.9 259.9h0.01M349.2 259.2h0.01M350.3 260.9h0.01M346.7 259.8h0.01M349.9 258.2h0.01M349.2 259.8h0.01M351.4 259.0h0.01M347.4 260.3h0.01M349.9 259.4h0.01M350.0 260.7h0.01M353.6 260.8h0.01M347.6 260.2h0.01M342.6 263.6h0.01M347.8 260.5h0.01M351.6 258.3h0.01M351.4 259.6h0.01M344.5 261.6h0.01M353.6 257.3h0.01M352.4 259.6h0.01M351.4 260.1h0.01M353.9 258.8h0.01M352.6 259.0h0.01M352.2 258.7h0.01M349.7 261.7h0.01M351.3 259.5h0.01M346.6 260.1h0.01" stroke="#000" stroke-width="0.6" stroke-linecap="round" opacity="0.25"/>
<path d="M342.0 252.8h0.01M342.7 252.1h0.01M341.4 253.5h0.01M340.4 250.4h0.01M344.0 251.4h0.01M340.7 250.4h0.01M340.8 252.3h0.01M342.5 249.4h0.01M342.7 251.6h0.01M338.7 252.5h0.01M340.7 250.8h0.01M343.7 253.4h0.01M339.6 252.0h0.01M339.0 255.0h0.01M340.1 253.2h0.01M339.7 252.6h0.01M347.7 247.2h0.01M340.3 252.1h0.01M341.2 250.2h0.01M347.5 251.4h0.01M336.9 252.7h0.01M336.7 253.1h0.01M339.9 251.5h0.01M345.0 251.5h0.01M337.6 248.6h0.01M344.8 252.5h0.01M339.2 252.7h0.01M342.9 252.3h0.01M344.0 252.5h0.01M344.0 247.4h0.01M342.0 252.1h0.01M348.6 249.8h0.01M340.6 251.4h0.01M344.0 250.6h0.01M344.7 250.0h0.01M342.2 250.5h0.01M341.9 250.2h0.01M337.0 253.0h0.01M342.3 250.4h0.01M342.1 252.9h0.01M338.8 251.1h0.01M343.0 252.1h0.01M340.6 247.9h0.01M345.0 251.8h0.01M341.5 250.9h0.01M342.2 250.6h0.01M338.6 250.1h0.01M339.8 250.3h0.01M338.3 252.3h0.01M337.8 252.4h0.01M338.7 251.9h0.01M345.3 251.6h0.01M339.5 251.4h0.01M341.9 248.5h0.01M339.8 251.6h0.01M340.2 251.4h0.01M343.6 252.5h0.01M344.0 252.2h0.01M340.7 251.3h0.01M340.7 250.8h0.01M341.0 248.5h0.01M340.6 251.3h0.01M338.8 251.3h0.01M342.9 251.0h0.01M347.3 247.1h0.01M340.9 248.4h0.01M344.2 255.5h0.01M343.0 250.8h0.01M343.0 247.7h0.01M343.9 251.9h0.01M341.6 250.4h0.01M343.3 250.5h0.01M342.1 250.5h0.01M342.1 252.5h0.01M339.0 251.2h0.01M343.2 251.5h0.01M345.0 254.5h0.01M339.0 248.2h0.01M343.9 253.7h0.01M344.1 252.6h0.01M339.8 250.2h0.01M344.0 249.8h0.01M336.4 249.7h0.01M348.5 254.4h0.01M339.6 250.1h0.01M342.1 250.1h0.01M345.2 251.2h0.01M338.5 253.4h0.01M339.9 251.7h0.01M341.5 250.8h0.01M342.4 250.2h0.01M336.3 247.8h0.01M338.0 250.1h0.01M341.4 251.4h0.01M343.1 251.5h0.01M339.3 250.2h0.01M335.6 251.0h0.01M342.9 252.1h0.01M341.2 251.0h0.01M344.1 251.3h0.01" stroke="#000" stroke-width="0.64" stroke-linecap="round" opacity="0.35"/>
<path d="M365.1 270.7h0.01M364.0 274.9h0.01M362.5 269.9h0.01M362.0 268.6h0.01M366.7 273.6h0.01M363.6 272.3h0.01M366.0 270.5h0.01M366.0 261.9h0.01M362.3 273.4h0.01M366.5 267.0h0.01M361.9 270.6h0.01M362.3 268.0h0.01M366.6 263.8h0.01M363.6 278.9h0.01M366.0 268.6h0.01M362.4 273.2h0.01M366.8 268.7h0.01M366.1 267.4h0.01M364.6 267.9h0.01M364.5 274.4h0.01M360.7 273.2h0.01M364.1 267.0h0.01M363.0 274.0h0.01M367.6 267.8h0.01M364.3 262.8h0.01M367.5 265.7h0.01M363.5 265.4h0.01M363.5 265.6h0.01M363.7 271.8h0.01M363.7 271.1h0.01M361.9 278.0h0.01M362.3 264.0h0.01M363.2 267.3h0.01M361.6 270.9h0.01M364.2 264.4h0.01M363.3 276.3h0.01M365.0 267.7h0.01M363.9 269.2h0.01M363.5 273.2h0.01M363.4 260.2h0.01M363.6 266.4h0.01M364.9 265.9h0.01M363.9 278.7h0.01M361.5 267.8h0.01M360.8 263.4h0.01M359.8 276.0h0.01M362.3 263.8h0.01M360.6 276.1h0.01M362.0 270.3h0.01M364.3 274.8h0.01M367.5 269.6h0.01M363.9 270.4h0.01M367.2 271.6h0.01M363.0 272.6h0.01M364.2 269.5h0.01M362.6 265.7h0.01M362.5 264.9h0.01M366.0 269.3h0.01M361.2 278.7h0.01M365.4 259.9h0.01M367.3 268.9h0.01M367.7 259.9h0.01M364.7 270.5h0.01M364.0 270.2h0.01M365.7 261.3h0.01M361.1 267.2h0.01M362.5 268.8h0.01M364.3 270.2h0.01M363.7 267.1h0.01M362.7 275.0h0.01M365.1 268.6h0.01M363.0 277.2h0.01M362.4 274.1h0.01M365.9 266.1h0.01M365.3 263.4h0.01M365.6 268.4h0.01M360.4 276.6h0.01M361.8 277.5h0.01M362.2 270.9h0.01M364.2 267.9h0.01M364.1 267.1h0.01M364.9 268.4h0.01M364.0 258.1h0.01M365.9 267.3h0.01M360.0 274.7h0.01M364.5 273.3h0.01M361.4 279.0h0.01M363.3 280.3h0.01M363.3 273.2h0.01M362.9 266.2h0.01M365.8 271.1h0.01M366.7 269.9h0.01M362.5 264.5h0.01M362.3 268.8h0.01M362.0 274.4h0.01M364.3 268.1h0.01M363.9 269.0h0.01M364.0 272.6h0.01M365.5 264.8h0.01M360.6 279.5h0.01M363.8 274.3h0.01M360.3 272.6h0.01M363.7 263.9h0.01M362.6 274.2h0.01M365.8 274.0h0.01M361.9 266.2h0.01M364.6 272.7h0.01M364.0 264.1h0.01M365.2 271.4h0.01M364.7 266.6h0.01M364.2 272.6h0.01M362.5 263.7h0.01M364.3 271.2h0.01M363.6 273.7h0.01M362.4 271.1h0.01M363.0 273.1h0.01M366.8 265.1h0.01M367.7 271.4h0.01M365.2 270.5h0.01M367.1 265.0h0.01M363.4 265.9h0.01M364.5 274.5h0.01M364.7 270.5h0.01M363.2 271.2h0.01M360.7 277.8h0.01M362.8 266.4h0.01M362.1 268.4h0.01M365.3 272.3h0.01M360.9 277.1h0.01M365.4 265.5h0.01M360.6 270.5h0.01M362.3 272.9h0.01M362.9 262.4h0.01M364.1 263.1h0.01M365.4 262.8h0.01M362.2 268.1h0.01M362.5 276.7h0.01M365.3 270.5h0.01M364.2 262.8h0.01M362.6 269.0h0.01" stroke="#000" stroke-width="0.64" stroke-linecap="round" opacity="0.4"/>
<g filter="url(#bl2)" opacity="0.8"><path d="M345.5 263.6 L355 258.2" stroke="#666" stroke-width="1.8" fill="none"/><ellipse cx="342" cy="262.5" rx="3.5" ry="1.4" fill="#bbb"/><ellipse cx="363.0" cy="272" rx="1.6" ry="5" transform="rotate(10 363 272)" fill="#bbb"/><path d="M336.8 251.3 L341.5 247.6 L346.4 251.3 L341.5 254.6 Z" fill="#888"/></g>
<g filter="url(#bl)">
<path d="M340 288.3 L337.4 285 L336.8 268 Q336.9 264 338.6 262.9 Q340.5 261.6 342.5 262.3 Q345.5 262.2 347.6 262.6 Q348.8 264.0 348.2 267.5 L347.3 276 L347.4 288.3 Z" fill="#000"/>
<ellipse cx="341.5" cy="251.3" rx="2.9" ry="1.8" fill="#000"/>
<ellipse cx="363.8" cy="267.2" rx="2.3" ry="4.4" transform="rotate(18 363.8 267.2)" fill="#111"/>
</g>
<text x="361.35" y="303.60" font-size="6.0" text-anchor="middle" font-weight="bold" textLength="28.50" lengthAdjust="spacingAndGlyphs" stroke="#000" stroke-width="0.15">No GVHD</text>
<rect x="335.1" y="305.4" width="52.5" height="52.400000000000034" fill="none" stroke="#333" stroke-width="0.65"/>
<rect x="335.6" y="312.3" width="15.799999999999955" height="12.899999999999977" fill="none" stroke="#444" stroke-width="0.55"/>
<rect x="358.3" y="329.7" width="17.30000000000001" height="21.30000000000001" fill="none" stroke="#444" stroke-width="0.55"/>
<text x="337.30" y="310.60" font-size="4.3" textLength="13.70" lengthAdjust="spacingAndGlyphs" stroke="#000" stroke-width="0.16">6.01%</text>
<text x="360.40" y="328.40" font-size="4.3" textLength="13.80" lengthAdjust="spacingAndGlyphs" stroke="#000" stroke-width="0.16">5.64%</text>
<text x="333.70" y="311.64" font-size="2.8" text-anchor="end" fill="#444">10<tspan font-size="1.8" dy="-1.2">x</tspan></text>
<text x="333.70" y="323.69" font-size="2.8" text-anchor="end" fill="#444">10<tspan font-size="1.8" dy="-1.2">x</tspan></text>
<text x="333.70" y="335.74" font-size="2.8" text-anchor="end" fill="#444">10<tspan font-size="1.8" dy="-1.2">x</tspan></text>
<text x="333.70" y="348.32" font-size="2.8" text-anchor="end" fill="#444">10<tspan font-size="1.8" dy="-1.2">x</tspan></text>
<text x="333.70" y="353.56" font-size="2.8" text-anchor="end" fill="#444">10<tspan font-size="1.8" dy="-1.2">x</tspan></text>
<text x="341.40" y="363.20" font-size="2.8" text-anchor="middle" fill="#444">10<tspan font-size="1.8" dy="-1.2">x</tspan></text>
<text x="347.70" y="363.20" font-size="2.8" text-anchor="middle" fill="#444">10<tspan font-size="1.8" dy="-1.2">x</tspan></text>
<text x="357.68" y="363.20" font-size="2.8" text-anchor="middle" fill="#444">10<tspan font-size="1.8" dy="-1.2">x</tspan></text>
<text x="369.75" y="363.20" font-size="2.8" text-anchor="middle" fill="#444">10<tspan font-size="1.8" dy="-1.2">x</tspan></text>
<text x="380.78" y="363.20" font-size="2.8" text-anchor="middle" fill="#444">10<tspan font-size="1.8" dy="-1.2">x</tspan></text>
<path d="M340.7 332.5h0.01M341.2 328.9h0.01M340.6 324.8h0.01M343.6 335.0h0.01M342.8 328.1h0.01M337.6 331.5h0.01M344.7 331.9h0.01M344.2 335.4h0.01M344.5 329.7h0.01M344.4 333.3h0.01M339.7 329.8h0.01M339.9 330.7h0.01M343.5 327.8h0.01M338.8 334.9h0.01M343.2 335.4h0.01M340.1 334.2h0.01M346.2 337.0h0.01M342.1 331.8h0.01M342.2 334.0h0.01M344.4 331.3h0.01M340.1 333.2h0.01M341.7 332.9h0.01M343.0 335.9h0.01M344.5 329.6h0.01M343.1 336.3h0.01M341.5 332.3h0.01M344.6 334.8h0.01M343.4 327.0h0.01M340.2 331.7h0.01M343.2 338.6h0.01M340.9 334.4h0.01M343.9 326.0h0.01M341.0 331.5h0.01M341.6 330.5h0.01M343.3 328.6h0.01M343.3 329.1h0.01M341.5 332.6h0.01M341.5 331.9h0.01M345.4 331.1h0.01M342.2 333.2h0.01M341.8 334.2h0.01M340.2 332.9h0.01M341.6 328.6h0.01M345.7 328.4h0.01M345.7 333.0h0.01M345.1 328.1h0.01M344.7 335.4h0.01M342.3 330.6h0.01M346.9 331.5h0.01M341.7 329.1h0.01M343.3 332.0h0.01M342.8 336.2h0.01M341.9 332.4h0.01M345.1 328.0h0.01M344.4 336.5h0.01M340.1 327.7h0.01M340.6 325.5h0.01M343.3 325.4h0.01M343.4 335.4h0.01M339.6 330.1h0.01M339.0 333.3h0.01M341.2 330.2h0.01M342.6 332.6h0.01M341.9 331.0h0.01M341.5 331.3h0.01M340.4 331.2h0.01M339.0 329.5h0.01M345.9 331.2h0.01M340.2 331.8h0.01M340.7 326.0h0.01" stroke="#000" stroke-width="0.6" stroke-linecap="round" opacity="0.28"/>
<path d="M337.9 352.0h0.01M344.1 343.6h0.01M336.9 338.0h0.01M349.4 344.8h0.01M336.8 330.0h0.01M343.2 343.4h0.01M340.5 334.7h0.01M337.8 352.8h0.01M343.4 352.7h0.01M335.8 351.5h0.01M344.1 338.6h0.01M344.6 337.2h0.01M337.6 346.1h0.01M336.5 335.1h0.01M339.7 351.7h0.01M339.8 355.6h0.01M350.5 345.6h0.01M347.2 337.0h0.01M346.4 345.7h0.01M345.6 344.2h0.01M348.6 338.0h0.01M336.7 335.0h0.01M348.4 337.4h0.01M336.3 339.3h0.01M339.6 335.7h0.01M340.4 340.5h0.01M339.0 338.4h0.01M342.2 341.3h0.01M342.6 346.8h0.01M343.9 327.3h0.01M339.1 339.6h0.01M346.3 331.4h0.01M338.1 343.8h0.01M340.2 353.3h0.01M339.6 353.3h0.01M348.7 346.5h0.01M344.7 345.2h0.01M344.7 334.7h0.01M347.2 339.3h0.01M347.4 344.1h0.01M348.2 342.1h0.01M339.8 347.5h0.01M339.7 341.4h0.01M342.6 346.0h0.01M350.3 342.9h0.01M352.3 356.1h0.01M351.4 350.6h0.01M342.7 345.9h0.01M341.2 339.5h0.01M341.6 340.1h0.01M351.0 346.6h0.01M339.5 330.7h0.01M341.7 341.8h0.01M336.0 337.8h0.01M341.8 343.9h0.01M349.9 343.7h0.01M342.9 341.8h0.01M347.5 356.9h0.01M340.1 345.8h0.01M337.2 354.0h0.01M348.0 354.3h0.01M336.8 355.0h0.01M338.1 340.2h0.01M351.1 337.7h0.01M337.8 343.6h0.01M355.8 348.9h0.01M339.0 331.8h0.01M338.3 355.4h0.01M352.3 339.9h0.01M338.2 342.1h0.01M336.0 355.1h0.01M343.6 338.6h0.01M346.3 343.8h0.01M346.6 328.7h0.01M352.0 346.0h0.01M346.2 329.2h0.01M338.0 343.4h0.01M347.9 331.8h0.01M337.1 330.5h0.01M340.7 348.1h0.01M344.8 356.6h0.01M345.7 341.6h0.01M338.3 347.2h0.01M343.6 336.1h0.01M350.5 350.0h0.01M342.6 339.2h0.01M347.0 337.2h0.01M343.3 349.4h0.01M345.6 355.0h0.01M337.4 354.0h0.01M336.6 352.0h0.01M343.0 346.6h0.01M347.3 343.3h0.01M348.1 350.1h0.01M342.7 340.3h0.01M337.9 342.1h0.01M340.9 345.1h0.01M358.4 345.2h0.01M346.2 337.0h0.01M338.1 343.6h0.01M343.1 336.6h0.01M350.9 338.0h0.01M347.9 325.0h0.01M342.0 347.2h0.01M343.1 349.4h0.01M343.5 345.8h0.01M343.7 343.0h0.01M337.5 341.8h0.01M352.2 355.6h0.01M341.7 355.2h0.01M339.3 338.9h0.01M338.9 347.4h0.01M358.6 335.0h0.01M342.3 347.1h0.01M341.8 352.4h0.01M351.8 332.4h0.01M342.9 342.7h0.01M344.0 332.4h0.01M344.9 345.7h0.01M342.4 326.3h0.01M339.9 339.7h0.01M345.8 348.1h0.01M341.9 349.1h0.01M338.7 346.5h0.01M342.2 349.3h0.01M341.6 344.0h0.01M341.3 340.2h0.01M354.3 345.5h0.01M349.7 330.6h0.01M345.8 350.5h0.01M352.4 352.3h0.01M346.2 334.5h0.01M337.2 348.5h0.01M344.8 336.2h0.01M339.9 342.5h0.01M342.3 347.5h0.01M340.4 335.8h0.01M348.8 355.5h0.01M341.4 353.2h0.01M344.4 349.5h0.01M344.6 338.2h0.01M345.2 352.0h0.01M353.5 355.9h0.01M352.9 347.6h0.01M340.1 340.8h0.01M337.5 347.2h0.01M341.8 350.3h0.01M354.5 341.1h0.01M345.7 347.6h0.01M343.5 342.9h0.01M341.3 338.7h0.01M343.0 344.5h0.01M343.8 337.8h0.01M342.2 345.3h0.01M345.3 335.7h0.01M344.3 352.0h0.01M345.3 341.2h0.01M339.3 343.9h0.01M346.0 356.0h0.01M341.1 340.2h0.01M344.1 346.0h0.01M337.0 340.7h0.01M341.4 350.4h0.01M344.7 334.6h0.01M342.6 347.6h0.01M341.4 337.2h0.01M341.7 342.5h0.01M343.8 337.9h0.01M348.0 330.1h0.01M341.0 345.3h0.01M347.3 338.7h0.01M345.0 339.7h0.01M339.8 349.1h0.01M336.9 354.1h0.01M348.7 343.3h0.01M335.8 350.0h0.01M348.3 351.7h0.01M346.5 329.4h0.01M352.4 348.0h0.01M348.2 340.6h0.01M340.9 344.9h0.01M345.8 342.8h0.01M343.1 348.0h0.01M344.4 345.0h0.01M340.9 340.4h0.01M349.4 344.0h0.01M336.1 342.3h0.01M341.2 341.7h0.01M348.0 334.2h0.01M344.7 345.3h0.01M341.5 349.1h0.01M339.5 348.1h0.01M346.3 351.9h0.01M341.9 340.3h0.01M348.0 326.9h0.01M337.6 351.5h0.01M345.6 335.9h0.01M342.8 337.7h0.01M342.3 352.0h0.01M346.1 327.5h0.01M346.2 329.8h0.01M348.3 346.3h0.01M354.4 336.6h0.01M342.0 353.2h0.01M338.5 340.5h0.01M340.0 345.0h0.01M336.0 350.5h0.01M345.0 344.7h0.01M351.4 339.7h0.01M349.2 338.6h0.01M346.2 328.6h0.01M343.1 343.3h0.01M339.3 341.0h0.01M340.1 339.9h0.01M339.0 341.8h0.01M336.2 345.6h0.01M346.3 341.8h0.01M339.3 356.4h0.01M347.4 350.7h0.01M348.4 340.6h0.01" stroke="#000" stroke-width="0.64" stroke-linecap="round" opacity="0.35"/>
<path d="M348.6 333.5h0.01M347.4 332.4h0.01M350.1 332.1h0.01M348.2 333.4h0.01M348.5 333.0h0.01M352.0 331.8h0.01M351.1 329.9h0.01M345.3 332.4h0.01M350.3 333.4h0.01M345.6 333.5h0.01M346.6 331.9h0.01M348.2 333.1h0.01M349.6 333.2h0.01M346.2 334.0h0.01M351.6 331.2h0.01M350.3 330.9h0.01M345.9 332.5h0.01M347.2 336.0h0.01M347.6 334.4h0.01M349.6 332.2h0.01M351.1 330.4h0.01M351.6 331.6h0.01M344.8 334.1h0.01M350.5 332.0h0.01M353.4 330.1h0.01M350.4 332.4h0.01M346.5 334.2h0.01M344.9 331.7h0.01M350.5 330.2h0.01M348.7 330.1h0.01M349.2 330.6h0.01M350.0 329.9h0.01M350.3 331.3h0.01M349.2 331.9h0.01M349.4 330.3h0.01M341.8 334.3h0.01M346.4 332.3h0.01M350.2 329.2h0.01M346.9 332.0h0.01M346.0 333.3h0.01M348.6 331.1h0.01M346.2 333.9h0.01M347.2 333.3h0.01M350.3 329.3h0.01M346.0 333.0h0.01M350.0 332.6h0.01M351.2 332.5h0.01M348.0 332.1h0.01M351.2 330.8h0.01M352.0 329.1h0.01" stroke="#000" stroke-width="0.6" stroke-linecap="round" opacity="0.25"/>
<path d="M345.5 320.3h0.01M344.2 320.6h0.01M338.9 319.7h0.01M348.7 318.9h0.01M338.4 320.3h0.01M341.5 318.8h0.01M339.8 322.7h0.01M337.5 324.5h0.01M340.9 318.4h0.01M346.0 321.7h0.01M339.0 322.1h0.01M336.0 318.8h0.01M347.3 320.1h0.01M338.1 321.6h0.01M346.5 320.6h0.01M336.1 319.9h0.01M344.6 322.1h0.01M350.0 320.1h0.01M341.2 320.5h0.01M347.6 318.7h0.01M348.0 315.1h0.01M346.0 319.2h0.01M344.7 322.0h0.01M338.5 320.4h0.01M343.9 321.8h0.01M339.5 318.6h0.01M342.3 320.2h0.01M337.3 322.5h0.01M341.0 323.5h0.01M346.2 320.6h0.01M345.8 318.4h0.01M341.8 319.4h0.01M338.2 320.6h0.01M342.4 323.5h0.01M339.5 319.7h0.01M344.6 321.4h0.01M343.1 319.7h0.01M344.9 321.3h0.01M336.0 320.1h0.01M337.8 318.2h0.01M343.6 320.7h0.01M343.4 318.8h0.01M342.2 318.8h0.01M344.5 322.0h0.01M349.7 323.1h0.01M339.9 319.7h0.01M339.4 321.2h0.01M350.5 322.0h0.01M338.1 321.6h0.01M343.0 321.2h0.01M349.8 318.9h0.01M339.8 324.5h0.01M344.3 319.0h0.01M343.2 322.6h0.01M342.5 319.2h0.01M340.2 324.4h0.01M336.3 320.9h0.01M343.1 321.8h0.01M341.5 321.6h0.01M346.1 320.3h0.01M341.3 320.2h0.01M339.3 320.2h0.01M341.9 321.0h0.01M348.1 323.2h0.01M341.3 321.8h0.01M344.1 322.1h0.01M343.1 321.1h0.01M341.2 319.0h0.01M346.3 323.2h0.01M345.5 321.5h0.01M344.0 319.7h0.01M336.2 321.9h0.01M343.8 319.5h0.01M339.3 323.2h0.01M336.1 324.1h0.01M345.4 325.3h0.01M340.3 320.6h0.01M341.1 320.9h0.01M342.2 319.1h0.01M347.1 319.0h0.01M341.1 321.7h0.01M341.0 319.7h0.01M344.4 319.9h0.01M338.3 320.4h0.01M342.2 324.0h0.01M338.8 322.5h0.01M340.0 319.9h0.01M341.8 321.1h0.01M346.3 324.1h0.01M340.6 323.3h0.01M346.8 322.2h0.01M340.1 322.4h0.01M342.6 321.3h0.01M342.0 321.9h0.01M347.2 322.9h0.01M342.2 322.6h0.01M348.5 318.7h0.01M348.6 317.9h0.01M345.1 321.8h0.01M348.6 321.2h0.01M341.2 319.0h0.01M338.2 322.1h0.01M342.1 319.2h0.01M345.0 319.1h0.01M341.3 319.7h0.01M349.3 323.5h0.01M342.4 317.5h0.01M344.1 320.7h0.01M344.3 321.7h0.01M341.8 322.5h0.01" stroke="#000" stroke-width="0.64" stroke-linecap="round" opacity="0.35"/>
<path d="M366.5 337.3h0.01M363.5 339.2h0.01M366.2 333.1h0.01M364.1 337.4h0.01M361.2 346.5h0.01M364.4 339.7h0.01M366.6 331.1h0.01M364.3 340.8h0.01M366.5 332.7h0.01M366.2 337.8h0.01M367.8 338.8h0.01M365.8 345.2h0.01M364.5 338.0h0.01M363.7 337.3h0.01M364.4 332.9h0.01M364.3 341.3h0.01M366.9 334.8h0.01M367.8 332.3h0.01M364.2 333.3h0.01M362.7 339.3h0.01M368.0 336.2h0.01M361.9 345.1h0.01M365.6 337.0h0.01M364.6 338.4h0.01M363.2 335.2h0.01M364.3 344.3h0.01M367.9 333.6h0.01M362.7 341.3h0.01M366.6 337.7h0.01M363.1 342.8h0.01M364.0 342.0h0.01M363.5 335.8h0.01M364.6 342.0h0.01M361.9 342.9h0.01M366.6 335.2h0.01M363.0 348.8h0.01M366.4 340.2h0.01M362.3 348.4h0.01M360.6 343.3h0.01M366.2 341.6h0.01M362.3 340.4h0.01M365.0 332.1h0.01M366.0 339.3h0.01M363.5 342.9h0.01M366.3 337.9h0.01M365.7 343.0h0.01M363.4 341.7h0.01M363.3 344.9h0.01M363.6 342.5h0.01M364.8 339.3h0.01M368.5 333.4h0.01M367.8 337.6h0.01M367.6 334.5h0.01M366.7 339.0h0.01M363.1 342.5h0.01M364.2 339.8h0.01M367.5 332.6h0.01M360.6 339.2h0.01M363.5 338.8h0.01M364.5 341.4h0.01M368.6 334.6h0.01M365.6 335.4h0.01M365.8 342.2h0.01M367.6 328.2h0.01M366.6 341.9h0.01M366.4 331.6h0.01M363.8 342.6h0.01M365.5 335.3h0.01M362.4 345.8h0.01M361.4 348.9h0.01M364.5 340.5h0.01M361.4 341.9h0.01M366.1 332.1h0.01M369.3 327.7h0.01M361.7 343.8h0.01M365.6 340.4h0.01M363.6 340.0h0.01M364.0 338.3h0.01M358.6 351.5h0.01M365.1 339.2h0.01M363.0 342.5h0.01M364.5 339.3h0.01M367.0 329.9h0.01M365.1 335.0h0.01M363.8 345.7h0.01M362.0 342.8h0.01M363.1 344.7h0.01M362.2 337.0h0.01M365.7 336.6h0.01M363.8 344.3h0.01M362.5 341.2h0.01M364.8 340.4h0.01M363.3 344.8h0.01M369.7 330.6h0.01M368.8 326.0h0.01M367.7 333.6h0.01M364.8 337.9h0.01M363.0 337.3h0.01M363.6 345.3h0.01M367.1 334.5h0.01M363.3 338.9h0.01M361.7 349.7h0.01M366.0 337.7h0.01M363.4 337.6h0.01M367.5 337.8h0.01M362.3 346.1h0.01M361.9 345.4h0.01M362.3 341.3h0.01M365.6 339.3h0.01M366.8 333.2h0.01M368.1 338.8h0.01M364.5 341.1h0.01M362.7 341.6h0.01M361.5 344.2h0.01M365.0 343.4h0.01M366.7 339.1h0.01M363.7 339.9h0.01M363.7 341.4h0.01M360.1 348.6h0.01M360.9 343.0h0.01M364.6 337.7h0.01M368.3 333.6h0.01M368.1 338.2h0.01M363.4 342.5h0.01M367.5 334.0h0.01M364.7 337.3h0.01M364.6 338.1h0.01M364.7 342.7h0.01M367.7 335.3h0.01M365.0 341.8h0.01M363.8 336.8h0.01M367.1 332.6h0.01M366.6 333.1h0.01M368.7 329.8h0.01M366.5 341.8h0.01M362.3 347.8h0.01M362.6 336.2h0.01M366.2 339.5h0.01M364.0 331.5h0.01M364.4 338.6h0.01M363.6 339.8h0.01M360.4 343.6h0.01M368.6 338.8h0.01M363.7 338.3h0.01M365.4 341.8h0.01M366.2 333.1h0.01M364.9 339.4h0.01M367.8 338.8h0.01M365.7 341.9h0.01M363.6 346.1h0.01M363.5 342.3h0.01M366.6 333.3h0.01M362.9 335.8h0.01M364.9 338.8h0.01M363.7 342.3h0.01M359.6 346.5h0.01M364.7 338.3h0.01M366.3 342.8h0.01M363.5 337.8h0.01M363.1 341.8h0.01" stroke="#000" stroke-width="0.64" stroke-linecap="round" opacity="0.4"/>
<g filter="url(#bl2)" opacity="0.8"><path d="M345 336 L353 329.5" stroke="#999" stroke-width="1.6" fill="none"/><path d="M342 327 L342 335" stroke="#bbb" stroke-width="2.2" fill="none"/><ellipse cx="343.5" cy="320.6" rx="5.2" ry="3.0" fill="#999"/><path d="M362.8 347 L365 337 L369.5 331.5" stroke="#bbb" stroke-width="2.6" fill="none"/></g>
<g filter="url(#bl)">
<path d="M337.3 357.8 L336.9 342 Q337.0 337.5 339.5 336.2 Q342.5 334.6 345.2 336.2 Q346.6 338 346.4 342 L346.2 350 L346.8 357.8 Z" fill="#000"/>
<ellipse cx="342.6" cy="320.7" rx="4.5" ry="2.5" fill="#000"/>
<path d="M362.0 342.5 Q361.2 339 362.6 335.8 L368.4 331.2 Q370.2 331.4 369.4 333.6 L366.0 340 Q364.2 343.8 362.0 342.5 Z" fill="#111"/>
</g>
<line x1="321.60" y1="236.50" x2="321.60" y2="357.40" stroke="#000" stroke-width="0.95"/>
<path d="M321.6 233.4 L319.8 238.6 L323.4 238.6 Z" fill="#000"/>
<line x1="325.90" y1="367.60" x2="385.00" y2="367.60" stroke="#000" stroke-width="0.95"/>
<path d="M388.4 367.6 L383.2 365.8 L383.2 369.4 Z" fill="#000"/>
<text x="318.60" y="334.00" font-size="4.2" text-anchor="middle" textLength="48.80" lengthAdjust="spacingAndGlyphs" stroke="#000" stroke-width="0.15" transform="rotate(-90 318.60 334.00)">CD45.1 (B6.WT targets)</text>
<text x="325.90" y="375.00" font-size="4.6" textLength="40.39" lengthAdjust="spacingAndGlyphs" stroke="#000" stroke-width="0.15">CFSE  (B6.IFNAR1</text>
<text x="366.29" y="373.16" font-size="3.128" textLength="3.01" lengthAdjust="spacingAndGlyphs" stroke="#000" stroke-width="0.05">-/-</text>
<text x="369.30" y="375.00" font-size="4.6" textLength="17.20" lengthAdjust="spacingAndGlyphs" stroke="#000" stroke-width="0.15">&#160;targets)</text>
<text x="403.80" y="234.30" font-size="11.8" font-weight="bold" stroke="#000" stroke-width="0.05">H</text>
<text x="450.75" y="238.50" font-size="5.4" text-anchor="middle" font-weight="bold" stroke="#000" stroke-width="0.15">P815</text>
<path d="M446.50 272.80 L448.20 268.00 L449.20 258.00 L450.20 247.00 L451.00 243.60 L451.80 247.00 L452.80 258.00 L453.80 268.00 L455.00 272.80 Z" fill="#dcdcdc" stroke="#999" stroke-width="0.5"/>
<path d="M433.50 271.00 L437.00 271.30 L440.00 270.50 L442.00 268.50 L444.00 265.00 L445.50 260.00 L446.50 254.00 L447.40 248.00 L448.20 245.60 L449.00 248.00 L449.80 256.00 L450.60 266.00 L451.40 271.50 L455.00 272.50 L468.00 272.80" fill="none" stroke="#555" stroke-width="0.55"/>
<rect x="433.2" y="240.5" width="35.10000000000002" height="32.69999999999999" fill="none" stroke="#555" stroke-width="0.6"/>
<text x="437.41" y="276.70" font-size="2.2" text-anchor="middle" fill="#666" stroke="#666" stroke-width="0.15">10<tspan font-size="1.5" dy="-1">x</tspan></text>
<text x="440.92" y="276.70" font-size="2.2" text-anchor="middle" fill="#666" stroke="#666" stroke-width="0.15">10<tspan font-size="1.5" dy="-1">x</tspan></text>
<text x="448.29" y="276.70" font-size="2.2" text-anchor="middle" fill="#666" stroke="#666" stroke-width="0.15">10<tspan font-size="1.5" dy="-1">x</tspan></text>
<text x="457.42" y="276.70" font-size="2.2" text-anchor="middle" fill="#666" stroke="#666" stroke-width="0.15">10<tspan font-size="1.5" dy="-1">x</tspan></text>
<text x="463.04" y="276.70" font-size="2.2" text-anchor="middle" fill="#666" stroke="#666" stroke-width="0.15">10<tspan font-size="1.5" dy="-1">x</tspan></text>
<text x="492.35" y="238.50" font-size="5.4" text-anchor="middle" font-weight="bold" stroke="#000" stroke-width="0.15">P210</text>
<path d="M483.50 273.00 L486.00 269.00 L487.50 262.00 L488.70 253.00 L489.80 246.50 L490.50 245.40 L491.40 248.00 L492.60 256.00 L494.00 266.00 L495.80 272.50 L497.00 273.00 Z" fill="#dcdcdc" stroke="#999" stroke-width="0.5"/>
<path d="M475.20 266.50 L477.00 265.80 L479.00 265.50 L481.00 263.50 L483.00 261.50 L484.50 258.00 L485.50 253.00 L486.30 249.00 L487.10 247.40 L488.30 249.20 L489.40 247.50 L490.40 245.80 L491.50 250.00 L492.50 258.00 L493.50 265.00 L495.00 270.00 L497.00 272.00 L500.00 272.80 L509.50 273.00" fill="none" stroke="#555" stroke-width="0.55"/>
<rect x="475.0" y="240.5" width="34.69999999999999" height="32.80000000000001" fill="none" stroke="#555" stroke-width="0.6"/>
<text x="479.16" y="276.80" font-size="2.2" text-anchor="middle" fill="#666" stroke="#666" stroke-width="0.15">10<tspan font-size="1.5" dy="-1">x</tspan></text>
<text x="482.63" y="276.80" font-size="2.2" text-anchor="middle" fill="#666" stroke="#666" stroke-width="0.15">10<tspan font-size="1.5" dy="-1">x</tspan></text>
<text x="489.92" y="276.80" font-size="2.2" text-anchor="middle" fill="#666" stroke="#666" stroke-width="0.15">10<tspan font-size="1.5" dy="-1">x</tspan></text>
<text x="498.94" y="276.80" font-size="2.2" text-anchor="middle" fill="#666" stroke="#666" stroke-width="0.15">10<tspan font-size="1.5" dy="-1">x</tspan></text>
<text x="504.50" y="276.80" font-size="2.2" text-anchor="middle" fill="#666" stroke="#666" stroke-width="0.15">10<tspan font-size="1.5" dy="-1">x</tspan></text>
<text x="450.45" y="285.80" font-size="5.4" text-anchor="middle" font-weight="bold" stroke="#000" stroke-width="0.15">A20</text>
<path d="M449.50 319.00 L450.80 312.00 L451.60 300.00 L452.50 290.50 L453.30 296.00 L454.20 308.00 L455.30 318.80 Z" fill="#dcdcdc" stroke="#999" stroke-width="0.5"/>
<path d="M433.60 314.40 L436.00 315.20 L438.00 314.80 L440.00 313.00 L442.00 309.50 L444.00 303.50 L445.50 297.00 L446.70 292.50 L447.50 291.20 L448.40 293.00 L449.20 300.00 L450.00 310.00 L451.00 317.50 L454.00 318.80 L467.30 319.00" fill="none" stroke="#555" stroke-width="0.55"/>
<rect x="433.4" y="287.8" width="34.10000000000002" height="31.399999999999977" fill="none" stroke="#555" stroke-width="0.6"/>
<text x="437.49" y="322.70" font-size="2.2" text-anchor="middle" fill="#666" stroke="#666" stroke-width="0.15">10<tspan font-size="1.5" dy="-1">x</tspan></text>
<text x="440.90" y="322.70" font-size="2.2" text-anchor="middle" fill="#666" stroke="#666" stroke-width="0.15">10<tspan font-size="1.5" dy="-1">x</tspan></text>
<text x="448.06" y="322.70" font-size="2.2" text-anchor="middle" fill="#666" stroke="#666" stroke-width="0.15">10<tspan font-size="1.5" dy="-1">x</tspan></text>
<text x="456.93" y="322.70" font-size="2.2" text-anchor="middle" fill="#666" stroke="#666" stroke-width="0.15">10<tspan font-size="1.5" dy="-1">x</tspan></text>
<text x="462.38" y="322.70" font-size="2.2" text-anchor="middle" fill="#666" stroke="#666" stroke-width="0.15">10<tspan font-size="1.5" dy="-1">x</tspan></text>
<text x="492.00" y="285.20" font-size="5.4" text-anchor="middle" font-weight="bold" stroke="#000" stroke-width="0.15">EL-4</text>
<path d="M492.50 320.00 L493.80 312.00 L494.80 300.00 L495.80 290.90 L496.80 296.00 L497.80 308.00 L499.20 319.60 Z" fill="#dcdcdc" stroke="#999" stroke-width="0.5"/>
<path d="M475.00 318.60 L479.00 318.50 L482.00 317.00 L484.50 313.00 L486.50 306.00 L488.50 298.00 L490.00 293.50 L491.20 292.00 L492.20 295.00 L493.20 305.00 L494.00 314.00 L495.50 319.30 L509.00 319.80" fill="none" stroke="#555" stroke-width="0.55"/>
<rect x="474.8" y="287.2" width="34.39999999999998" height="33.0" fill="none" stroke="#555" stroke-width="0.6"/>
<text x="478.93" y="323.70" font-size="2.2" text-anchor="middle" fill="#666" stroke="#666" stroke-width="0.15">10<tspan font-size="1.5" dy="-1">x</tspan></text>
<text x="482.37" y="323.70" font-size="2.2" text-anchor="middle" fill="#666" stroke="#666" stroke-width="0.15">10<tspan font-size="1.5" dy="-1">x</tspan></text>
<text x="489.59" y="323.70" font-size="2.2" text-anchor="middle" fill="#666" stroke="#666" stroke-width="0.15">10<tspan font-size="1.5" dy="-1">x</tspan></text>
<text x="498.54" y="323.70" font-size="2.2" text-anchor="middle" fill="#666" stroke="#666" stroke-width="0.15">10<tspan font-size="1.5" dy="-1">x</tspan></text>
<text x="504.04" y="323.70" font-size="2.2" text-anchor="middle" fill="#666" stroke="#666" stroke-width="0.15">10<tspan font-size="1.5" dy="-1">x</tspan></text>
<text x="451.15" y="331.10" font-size="5.4" text-anchor="middle" font-weight="bold" stroke="#000" stroke-width="0.15">5GTM1</text>
<path d="M444.50 365.10 L446.50 360.00 L448.00 352.00 L449.20 343.00 L450.10 338.80 L451.20 342.00 L452.60 352.00 L454.00 361.00 L455.50 365.10 Z" fill="#dcdcdc" stroke="#999" stroke-width="0.5"/>
<path d="M433.50 359.20 L436.00 359.80 L438.50 358.00 L440.50 356.50 L442.50 353.00 L444.00 348.00 L445.50 343.00 L446.60 339.00 L447.50 337.60 L448.50 339.50 L449.60 338.20 L450.60 341.00 L451.60 349.00 L452.60 358.00 L454.00 363.50 L457.00 364.80 L468.80 365.00" fill="none" stroke="#555" stroke-width="0.55"/>
<rect x="433.3" y="334.7" width="35.69999999999999" height="30.600000000000023" fill="none" stroke="#555" stroke-width="0.6"/>
<text x="437.58" y="368.80" font-size="2.2" text-anchor="middle" fill="#666" stroke="#666" stroke-width="0.15">10<tspan font-size="1.5" dy="-1">x</tspan></text>
<text x="441.15" y="368.80" font-size="2.2" text-anchor="middle" fill="#666" stroke="#666" stroke-width="0.15">10<tspan font-size="1.5" dy="-1">x</tspan></text>
<text x="448.65" y="368.80" font-size="2.2" text-anchor="middle" fill="#666" stroke="#666" stroke-width="0.15">10<tspan font-size="1.5" dy="-1">x</tspan></text>
<text x="457.93" y="368.80" font-size="2.2" text-anchor="middle" fill="#666" stroke="#666" stroke-width="0.15">10<tspan font-size="1.5" dy="-1">x</tspan></text>
<text x="463.64" y="368.80" font-size="2.2" text-anchor="middle" fill="#666" stroke="#666" stroke-width="0.15">10<tspan font-size="1.5" dy="-1">x</tspan></text>
<text x="476.70" y="347.80" font-size="5.2" textLength="35.30" lengthAdjust="spacingAndGlyphs" stroke="#000" stroke-width="0.06">Open = isotype</text>
<text x="476.70" y="353.10" font-size="5.2" textLength="38.00" lengthAdjust="spacingAndGlyphs" stroke="#000" stroke-width="0.06">Tinted = IFNAR1</text>
</svg></body></html>
